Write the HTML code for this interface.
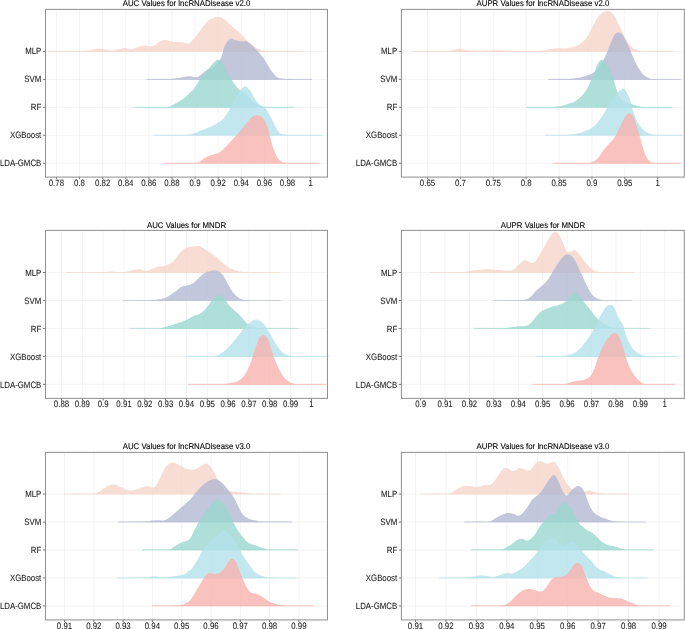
<!DOCTYPE html>
<html><head><meta charset="utf-8"><style>
html,body{margin:0;padding:0;background:#fff;}
svg{display:block;text-rendering:geometricPrecision;}
.ax{filter:grayscale(1);stroke:#1c1c1c;stroke-width:0.08px;font-family:"Liberation Sans",sans-serif;font-size:7.85px;fill:#1c1c1c;}
.ti{filter:grayscale(1);stroke:#000;stroke-width:0.1px;font-family:"Liberation Sans",sans-serif;font-size:7.85px;fill:#000;}
</style></head><body>
<svg width="685" height="629" viewBox="0 0 685 629">
<rect width="685" height="629" fill="#fff"/>
<g>
<g stroke="#EBEBEB" stroke-width="0.6">
<line x1="56.40" y1="9.4" x2="56.40" y2="177.1"/>
<line x1="79.51" y1="9.4" x2="79.51" y2="177.1"/>
<line x1="102.62" y1="9.4" x2="102.62" y2="177.1"/>
<line x1="125.73" y1="9.4" x2="125.73" y2="177.1"/>
<line x1="148.84" y1="9.4" x2="148.84" y2="177.1"/>
<line x1="171.95" y1="9.4" x2="171.95" y2="177.1"/>
<line x1="195.06" y1="9.4" x2="195.06" y2="177.1"/>
<line x1="218.17" y1="9.4" x2="218.17" y2="177.1"/>
<line x1="241.28" y1="9.4" x2="241.28" y2="177.1"/>
<line x1="264.39" y1="9.4" x2="264.39" y2="177.1"/>
<line x1="287.50" y1="9.4" x2="287.50" y2="177.1"/>
<line x1="310.61" y1="9.4" x2="310.61" y2="177.1"/>
<line x1="45.5" y1="51.40" x2="327.5" y2="51.40"/>
<line x1="45.5" y1="79.37" x2="327.5" y2="79.37"/>
<line x1="45.5" y1="107.34" x2="327.5" y2="107.34"/>
<line x1="45.5" y1="135.31" x2="327.5" y2="135.31"/>
<line x1="45.5" y1="163.28" x2="327.5" y2="163.28"/>
</g>
<g>
<line x1="48.2" y1="51.4" x2="302.5" y2="51.4" stroke="#F6D4C9" stroke-opacity="0.80" stroke-width="0.85"/><path d="M48.2,51.4 L48.2,51.3 L53.3,51.3 L60.6,51.3 L68.8,51.3 L76.8,51.3 L83.0,51.1 L87.4,50.7 L90.7,50.2 L93.4,49.6 L95.6,49.1 L97.9,48.8 L100.0,48.8 L101.9,48.9 L103.5,49.1 L104.9,49.4 L106.4,49.6 L107.7,49.8 L108.8,50.1 L109.9,50.4 L111.1,50.5 L112.7,50.5 L114.8,50.2 L117.2,49.6 L119.8,48.9 L122.2,48.3 L124.4,48.0 L126.1,48.1 L127.5,48.5 L128.7,48.9 L130.1,49.2 L131.8,49.2 L133.9,48.7 L136.3,47.8 L138.8,46.8 L141.2,45.9 L143.4,45.4 L145.2,45.4 L146.9,45.8 L148.4,46.2 L150.1,46.5 L151.9,46.3 L154.1,45.4 L156.5,43.9 L158.9,42.2 L161.3,40.8 L163.5,39.9 L165.4,39.8 L167.1,40.1 L168.7,40.7 L170.3,41.4 L172.0,41.8 L173.8,42.0 L175.6,42.1 L177.4,42.1 L179.1,42.1 L180.5,42.2 L181.7,42.3 L182.6,42.5 L183.4,42.6 L184.2,42.8 L185.0,42.9 L185.8,43.1 L186.6,43.5 L187.4,43.8 L188.2,43.9 L189.2,43.5 L190.3,42.6 L191.6,41.3 L192.9,39.8 L194.3,38.1 L195.6,36.5 L196.9,34.9 L198.1,33.2 L199.4,31.5 L200.6,29.7 L201.9,28.1 L203.1,26.5 L204.4,24.8 L205.6,23.3 L206.9,21.8 L208.3,20.6 L209.9,19.5 L211.7,18.6 L213.5,17.9 L215.2,17.3 L216.8,17.0 L218.2,16.9 L219.4,16.9 L220.5,17.2 L221.7,17.7 L223.1,18.5 L224.7,19.6 L226.3,21.0 L228.1,22.7 L229.9,24.3 L231.6,25.9 L233.3,27.4 L235.0,28.8 L236.6,30.3 L238.3,31.7 L240.0,33.3 L241.7,35.0 L243.4,36.7 L245.1,38.5 L246.8,40.2 L248.5,41.8 L250.2,43.3 L252.0,44.7 L253.8,46.0 L255.4,47.2 L257.0,48.2 L258.4,48.9 L259.7,49.5 L260.9,49.9 L262.0,50.2 L263.3,50.5 L264.2,50.7 L264.7,50.9 L265.4,51.0 L267.0,51.0 L270.0,51.1 L275.4,51.2 L282.7,51.2 L290.6,51.3 L297.7,51.3 L302.5,51.3 L302.5,51.4 Z" fill="#F6D4C9" fill-opacity="0.80"/>
<line x1="146.6" y1="79.4" x2="312.0" y2="79.4" stroke="#B3B9D2" stroke-opacity="0.80" stroke-width="0.85"/><path d="M146.6,79.4 L146.6,79.2 L150.1,79.2 L155.1,79.2 L160.8,79.1 L166.0,79.1 L170.0,79.0 L172.3,78.9 L173.6,78.8 L174.4,78.7 L175.1,78.5 L176.2,78.3 L177.8,78.0 L179.7,77.7 L181.6,77.3 L183.4,77.0 L185.0,76.7 L186.3,76.5 L187.3,76.4 L188.2,76.3 L189.2,76.3 L190.3,76.3 L191.6,76.5 L193.1,76.8 L194.6,77.1 L196.1,77.2 L197.7,76.9 L199.3,76.0 L201.0,74.7 L202.8,73.2 L204.5,71.7 L206.2,70.4 L207.9,69.5 L209.7,68.8 L211.4,68.1 L213.0,67.3 L214.6,66.2 L216.0,64.8 L217.4,63.3 L218.7,61.6 L219.9,59.7 L221.0,57.7 L222.0,55.3 L222.8,52.6 L223.5,49.8 L224.3,47.2 L225.2,45.0 L226.2,43.2 L227.2,41.6 L228.3,40.3 L229.4,39.3 L230.5,38.6 L231.6,38.4 L232.6,38.7 L233.7,39.3 L234.7,39.9 L235.8,40.3 L236.8,40.5 L237.9,40.7 L238.9,40.9 L240.0,41.1 L241.1,41.2 L242.3,41.2 L243.5,41.2 L244.7,41.2 L246.0,41.3 L247.4,41.8 L248.8,42.7 L250.3,43.8 L251.8,45.1 L253.3,46.6 L254.9,48.2 L256.6,49.9 L258.3,51.7 L260.0,53.7 L261.7,55.7 L263.3,57.7 L264.7,59.8 L266.0,62.0 L267.2,64.2 L268.5,66.3 L269.7,68.3 L271.0,70.2 L272.3,72.0 L273.6,73.6 L274.9,75.1 L276.0,76.3 L276.9,77.1 L277.6,77.6 L278.3,77.9 L279.1,78.2 L280.3,78.4 L281.7,78.6 L283.2,78.8 L285.0,78.9 L287.2,79.0 L290.0,79.1 L294.0,79.2 L299.0,79.2 L304.2,79.2 L308.8,79.2 L312.0,79.2 L312.0,79.4 Z" fill="#B3B9D2" fill-opacity="0.80"/>
<line x1="134.3" y1="107.3" x2="294.0" y2="107.3" stroke="#9AD7CF" stroke-opacity="0.80" stroke-width="0.85"/><path d="M134.3,107.3 L134.3,107.1 L138.9,107.1 L145.6,107.1 L153.1,107.0 L160.0,107.0 L165.0,106.9 L167.6,106.9 L168.6,106.9 L168.8,106.9 L169.1,106.8 L170.0,106.3 L171.8,105.4 L174.1,104.3 L176.5,102.9 L178.7,101.7 L180.5,100.6 L181.8,99.8 L182.7,99.3 L183.5,98.8 L184.2,98.2 L185.0,97.5 L186.0,96.6 L187.0,95.5 L188.1,94.5 L189.1,93.4 L190.0,92.5 L190.7,91.9 L191.3,91.6 L191.8,91.2 L192.5,90.6 L193.5,89.4 L194.9,87.4 L196.6,84.8 L198.4,81.9 L200.3,79.1 L201.9,76.7 L203.3,74.8 L204.7,73.3 L206.0,71.9 L207.2,70.6 L208.3,69.3 L209.3,68.1 L210.1,67.0 L210.8,65.9 L211.6,65.0 L212.5,64.0 L213.5,63.0 L214.6,61.9 L215.7,60.9 L216.8,60.1 L217.8,59.8 L218.7,59.9 L219.5,60.2 L220.3,60.9 L221.1,61.8 L222.0,63.0 L223.0,64.6 L224.1,66.6 L225.3,68.7 L226.4,70.8 L227.3,72.5 L228.0,73.7 L228.6,74.6 L229.1,75.4 L229.7,76.3 L230.5,77.5 L231.5,79.1 L232.6,81.0 L233.8,82.9 L235.1,84.8 L236.2,86.4 L237.3,87.7 L238.3,88.8 L239.3,89.7 L240.3,90.6 L241.4,91.5 L242.6,92.4 L243.9,93.2 L245.2,94.0 L246.4,94.8 L247.6,95.7 L248.7,96.7 L249.7,97.7 L250.7,98.8 L251.7,99.8 L252.7,100.8 L253.7,101.7 L254.8,102.7 L255.8,103.6 L256.9,104.3 L257.9,105.0 L258.9,105.5 L259.9,105.8 L260.8,106.1 L261.9,106.3 L263.0,106.5 L264.0,106.7 L264.8,106.8 L265.9,106.9 L267.5,107.0 L270.0,107.1 L274.1,107.1 L279.5,107.1 L285.3,107.1 L290.5,107.1 L294.0,107.1 L294.0,107.3 Z" fill="#9AD7CF" fill-opacity="0.80"/>
<line x1="154.0" y1="135.3" x2="322.6" y2="135.3" stroke="#B3E1EA" stroke-opacity="0.80" stroke-width="0.85"/><path d="M154.0,135.3 L154.0,135.0 L158.6,135.0 L165.4,135.0 L173.0,135.0 L180.0,134.9 L185.0,134.9 L187.6,134.8 L188.8,134.8 L189.2,134.7 L189.3,134.6 L190.0,134.4 L191.1,134.2 L192.4,133.9 L193.6,133.5 L194.9,133.1 L196.1,132.7 L197.3,132.2 L198.6,131.6 L199.8,131.1 L201.1,130.5 L202.3,129.9 L203.5,129.4 L204.7,128.9 L206.0,128.4 L207.2,127.9 L208.4,127.4 L209.6,126.9 L210.9,126.4 L212.1,125.9 L213.3,125.3 L214.5,124.8 L215.6,124.2 L216.7,123.7 L217.7,123.1 L218.7,122.4 L219.6,121.8 L220.5,121.1 L221.4,120.4 L222.2,119.7 L223.0,119.0 L223.7,118.2 L224.4,117.4 L225.0,116.6 L225.7,115.8 L226.2,114.9 L226.8,114.1 L227.3,113.3 L227.8,112.6 L228.3,111.8 L228.8,110.9 L229.3,110.0 L229.8,108.9 L230.3,107.8 L230.9,106.5 L231.4,105.2 L232.0,104.0 L232.6,102.8 L233.2,101.5 L233.8,100.3 L234.4,99.0 L235.2,97.7 L236.1,96.3 L237.2,94.7 L238.3,93.1 L239.4,91.7 L240.3,90.5 L241.1,89.6 L241.7,88.8 L242.3,88.2 L242.8,87.6 L243.4,87.2 L243.9,86.8 L244.4,86.4 L244.8,86.2 L245.4,86.2 L246.0,86.4 L246.8,87.0 L247.8,87.9 L248.8,88.9 L249.8,90.1 L250.7,91.3 L251.5,92.5 L252.3,93.9 L253.0,95.3 L253.8,96.7 L254.5,98.0 L255.2,99.2 L255.9,100.3 L256.6,101.4 L257.3,102.3 L258.0,103.2 L258.8,103.9 L259.6,104.6 L260.4,105.1 L261.2,105.6 L262.0,106.2 L262.8,106.8 L263.6,107.3 L264.5,107.9 L265.3,108.6 L266.0,109.3 L266.7,110.1 L267.3,111.1 L268.0,112.1 L268.6,113.1 L269.2,114.2 L269.8,115.4 L270.5,116.6 L271.1,117.9 L271.8,119.1 L272.4,120.4 L273.0,121.7 L273.6,122.9 L274.2,124.2 L274.8,125.4 L275.4,126.6 L276.0,127.7 L276.6,128.8 L277.2,129.8 L277.8,130.7 L278.4,131.5 L278.9,132.2 L279.4,132.7 L279.9,133.2 L280.5,133.5 L281.5,133.9 L282.5,134.2 L283.4,134.4 L284.6,134.6 L286.7,134.8 L290.0,134.9 L295.5,135.0 L302.9,135.0 L310.8,135.0 L317.8,135.0 L322.6,135.0 L322.6,135.3 Z" fill="#B3E1EA" fill-opacity="0.80"/>
<line x1="164.2" y1="163.3" x2="319.4" y2="163.3" stroke="#F8B3AF" stroke-opacity="0.80" stroke-width="0.85"/><path d="M164.2,163.3 L164.2,162.9 L168.0,162.9 L173.5,162.9 L179.7,162.9 L185.6,162.9 L190.0,162.9 L192.8,162.9 L194.7,162.9 L196.0,162.8 L197.0,162.7 L198.2,162.4 L199.4,161.9 L200.5,161.2 L201.4,160.5 L202.3,159.7 L203.3,159.0 L204.3,158.3 L205.4,157.7 L206.4,157.1 L207.4,156.5 L208.4,156.0 L209.3,155.6 L210.1,155.4 L210.8,155.2 L211.6,155.0 L212.5,154.8 L213.5,154.6 L214.5,154.3 L215.6,154.0 L216.6,153.8 L217.6,153.4 L218.5,153.0 L219.3,152.6 L220.0,152.1 L220.8,151.6 L221.7,150.9 L222.6,150.1 L223.6,149.1 L224.6,148.1 L225.7,147.0 L226.8,145.8 L228.0,144.6 L229.2,143.2 L230.4,141.8 L231.7,140.5 L232.9,139.1 L234.1,137.8 L235.3,136.5 L236.6,135.2 L237.8,133.9 L239.0,132.5 L240.2,131.0 L241.5,129.5 L242.7,127.9 L244.0,126.3 L245.2,124.8 L246.4,123.3 L247.7,121.7 L248.9,120.2 L250.1,118.8 L251.3,117.7 L252.4,116.8 L253.4,116.1 L254.4,115.6 L255.4,115.3 L256.4,115.2 L257.5,115.3 L258.7,115.5 L259.8,115.9 L261.0,116.5 L262.0,117.3 L262.9,118.2 L263.8,119.3 L264.6,120.6 L265.4,122.0 L266.1,123.5 L266.8,125.2 L267.5,127.1 L268.1,129.1 L268.7,131.1 L269.2,132.8 L269.6,134.3 L269.9,135.6 L270.2,136.9 L270.5,138.1 L270.8,139.5 L271.1,140.9 L271.5,142.3 L271.8,143.8 L272.3,145.4 L272.9,147.2 L273.7,149.4 L274.7,151.9 L275.8,154.5 L276.9,156.9 L278.1,158.8 L279.2,160.1 L280.4,161.0 L281.6,161.7 L282.9,162.2 L284.5,162.6 L286.1,162.9 L287.7,163.0 L289.6,163.0 L291.9,162.9 L295.0,162.9 L299.4,162.9 L304.9,162.9 L310.7,162.9 L315.9,162.9 L319.4,162.9 L319.4,163.3 Z" fill="#F8B3AF" fill-opacity="0.80"/>
</g>
<rect x="45.5" y="9.4" width="282.0" height="167.7" fill="none" stroke="#939393" stroke-width="1.05"/>
<g stroke="#EBEBEB" stroke-width="0.6">
<line x1="427.50" y1="9.4" x2="427.50" y2="177.1"/>
<line x1="460.39" y1="9.4" x2="460.39" y2="177.1"/>
<line x1="493.27" y1="9.4" x2="493.27" y2="177.1"/>
<line x1="526.15" y1="9.4" x2="526.15" y2="177.1"/>
<line x1="559.04" y1="9.4" x2="559.04" y2="177.1"/>
<line x1="591.92" y1="9.4" x2="591.92" y2="177.1"/>
<line x1="624.81" y1="9.4" x2="624.81" y2="177.1"/>
<line x1="657.69" y1="9.4" x2="657.69" y2="177.1"/>
<line x1="401.4" y1="51.40" x2="684.4" y2="51.40"/>
<line x1="401.4" y1="79.37" x2="684.4" y2="79.37"/>
<line x1="401.4" y1="107.34" x2="684.4" y2="107.34"/>
<line x1="401.4" y1="135.31" x2="684.4" y2="135.31"/>
<line x1="401.4" y1="163.28" x2="684.4" y2="163.28"/>
</g>
<g>
<line x1="412.6" y1="51.4" x2="673.4" y2="51.4" stroke="#F6D4C9" stroke-opacity="0.80" stroke-width="0.85"/><path d="M412.6,51.4 L412.6,51.3 L417.4,51.3 L424.3,51.3 L432.1,51.3 L439.4,51.2 L445.0,51.1 L448.5,50.9 L450.8,50.5 L452.4,50.1 L453.7,49.8 L455.0,49.5 L456.4,49.3 L457.4,49.1 L458.4,48.9 L459.3,48.8 L460.3,48.8 L461.3,49.0 L462.2,49.2 L463.1,49.6 L464.3,49.9 L466.0,50.2 L468.2,50.4 L470.9,50.6 L473.8,50.8 L476.9,50.9 L480.0,50.9 L483.2,50.8 L486.5,50.6 L489.9,50.4 L493.2,50.2 L496.3,50.1 L499.2,50.2 L501.9,50.3 L504.6,50.5 L507.2,50.7 L510.0,50.8 L512.9,50.9 L515.9,50.9 L518.9,50.9 L522.0,50.9 L525.0,50.9 L528.0,50.9 L531.0,51.0 L534.0,51.1 L537.0,51.1 L540.0,50.9 L543.0,50.5 L546.0,50.0 L549.0,49.4 L552.0,48.8 L554.8,48.4 L557.5,48.3 L560.1,48.3 L562.7,48.4 L565.1,48.4 L567.5,48.2 L569.8,47.8 L572.0,47.3 L574.1,46.7 L576.1,46.0 L578.1,45.0 L580.0,43.9 L581.8,42.5 L583.5,41.1 L585.1,39.4 L586.6,37.6 L588.0,35.5 L589.3,33.2 L590.5,30.7 L591.7,28.2 L592.9,25.9 L594.1,23.6 L595.4,21.3 L596.6,19.1 L597.9,17.1 L599.3,15.4 L600.9,13.9 L602.6,12.7 L604.4,11.6 L606.1,10.9 L607.7,10.7 L609.1,10.9 L610.4,11.5 L611.6,12.5 L612.9,13.8 L614.1,15.4 L615.4,17.4 L616.6,19.9 L617.9,22.6 L619.1,25.4 L620.4,28.1 L621.7,30.7 L623.0,33.4 L624.2,36.1 L625.5,38.6 L626.8,40.8 L628.1,42.7 L629.3,44.4 L630.6,45.8 L631.8,47.1 L633.1,48.2 L634.3,49.0 L635.5,49.6 L636.6,50.1 L638.0,50.4 L639.5,50.7 L641.1,51.0 L642.8,51.1 L644.7,51.2 L647.0,51.2 L650.0,51.3 L654.2,51.3 L659.6,51.3 L665.1,51.3 L670.0,51.3 L673.4,51.3 L673.4,51.4 Z" fill="#F6D4C9" fill-opacity="0.80"/>
<line x1="548.5" y1="79.4" x2="680.8" y2="79.4" stroke="#B3B9D2" stroke-opacity="0.80" stroke-width="0.85"/><path d="M548.5,79.4 L548.5,79.2 L550.9,79.2 L554.3,79.2 L558.2,79.1 L561.9,79.1 L565.0,79.0 L567.2,78.9 L569.0,78.9 L570.6,78.8 L572.1,78.6 L573.9,78.4 L575.9,78.1 L578.0,77.8 L580.2,77.4 L582.4,76.9 L584.5,76.3 L586.6,75.6 L588.8,74.9 L590.9,74.0 L593.0,72.9 L595.0,71.4 L596.9,69.6 L598.6,67.4 L600.3,65.0 L602.0,62.4 L603.5,59.8 L604.9,57.0 L606.3,53.9 L607.6,50.7 L608.8,47.7 L609.9,45.0 L610.9,42.7 L611.7,40.5 L612.5,38.6 L613.3,36.9 L614.1,35.5 L615.0,34.3 L615.9,33.4 L616.8,32.7 L617.8,32.4 L618.7,32.3 L619.7,32.6 L620.6,33.1 L621.6,34.0 L622.6,35.1 L623.6,36.5 L624.6,38.1 L625.6,40.1 L626.7,42.3 L627.8,44.6 L628.9,47.1 L630.1,49.9 L631.4,52.9 L632.7,56.1 L634.0,59.1 L635.3,61.9 L636.6,64.4 L637.8,66.7 L639.1,68.8 L640.3,70.8 L641.6,72.5 L642.9,74.0 L644.1,75.2 L645.4,76.2 L646.7,77.1 L648.0,77.8 L649.1,78.3 L649.9,78.7 L650.8,78.9 L652.4,79.0 L655.0,79.1 L659.4,79.2 L665.2,79.2 L671.4,79.2 L677.0,79.2 L680.8,79.2 L680.8,79.4 Z" fill="#B3B9D2" fill-opacity="0.80"/>
<line x1="526.5" y1="107.3" x2="672.3" y2="107.3" stroke="#9AD7CF" stroke-opacity="0.80" stroke-width="0.85"/><path d="M526.5,107.3 L526.5,107.1 L529.9,107.1 L534.8,107.1 L540.4,107.1 L545.7,107.1 L550.0,107.0 L553.0,106.9 L555.4,106.7 L557.4,106.5 L559.2,106.3 L561.2,105.9 L563.4,105.4 L565.7,104.7 L568.0,104.0 L570.0,103.3 L571.8,102.7 L573.2,102.2 L574.3,101.7 L575.2,101.2 L576.0,100.7 L577.0,100.0 L578.1,99.2 L579.2,98.3 L580.2,97.4 L581.3,96.3 L582.3,95.3 L583.2,94.3 L584.0,93.4 L584.8,92.3 L585.6,91.0 L586.6,89.4 L587.8,87.3 L589.1,84.8 L590.4,82.0 L591.7,79.3 L592.9,76.7 L593.9,74.2 L594.8,71.7 L595.6,69.2 L596.4,67.0 L597.2,65.1 L598.0,63.5 L598.9,62.1 L599.7,61.0 L600.6,60.2 L601.4,59.8 L602.2,59.8 L603.0,60.2 L603.8,60.9 L604.7,61.8 L605.6,63.0 L606.6,64.4 L607.8,66.1 L609.0,68.0 L610.1,70.2 L611.2,72.5 L612.2,75.2 L613.2,78.3 L614.1,81.5 L615.0,84.6 L615.8,87.3 L616.6,89.7 L617.4,91.9 L618.1,93.8 L618.9,95.6 L619.5,97.0 L620.1,98.0 L620.5,98.7 L620.9,99.2 L621.4,99.6 L622.0,100.0 L622.7,100.5 L623.4,100.9 L624.3,101.3 L625.1,101.6 L626.0,102.0 L626.9,102.4 L627.8,102.7 L628.7,103.0 L629.8,103.4 L631.0,103.8 L632.5,104.3 L634.1,104.9 L635.9,105.5 L637.7,106.1 L639.5,106.5 L640.9,106.8 L642.1,106.9 L643.5,107.0 L645.3,107.1 L648.0,107.1 L652.2,107.1 L657.7,107.1 L663.6,107.1 L668.7,107.1 L672.3,107.1 L672.3,107.3 Z" fill="#9AD7CF" fill-opacity="0.80"/>
<line x1="545.3" y1="135.3" x2="682.9" y2="135.3" stroke="#B3E1EA" stroke-opacity="0.80" stroke-width="0.85"/><path d="M545.3,135.3 L545.3,135.0 L548.2,135.0 L552.4,135.0 L557.1,135.0 L561.6,134.9 L565.0,134.9 L567.1,134.9 L568.5,134.8 L569.4,134.8 L570.4,134.7 L571.8,134.5 L573.7,134.2 L575.7,133.9 L577.9,133.5 L580.1,133.0 L582.3,132.3 L584.4,131.5 L586.6,130.6 L588.8,129.6 L590.9,128.4 L592.9,127.0 L594.8,125.4 L596.6,123.6 L598.3,121.6 L599.9,119.5 L601.4,117.5 L602.8,115.4 L604.1,113.3 L605.3,111.2 L606.5,109.0 L607.7,106.9 L609.0,104.7 L610.3,102.4 L611.6,100.2 L612.8,98.2 L614.0,96.4 L615.1,95.0 L616.2,93.7 L617.2,92.7 L618.3,91.9 L619.3,91.1 L620.3,90.3 L621.3,89.6 L622.4,89.1 L623.4,88.9 L624.4,89.3 L625.5,90.4 L626.6,92.0 L627.6,94.0 L628.7,96.3 L629.6,98.5 L630.4,100.8 L631.1,103.4 L631.7,106.1 L632.4,108.7 L633.1,111.2 L633.9,113.5 L634.7,115.7 L635.5,117.8 L636.4,119.9 L637.4,121.8 L638.5,123.7 L639.8,125.5 L641.1,127.3 L642.4,128.9 L643.7,130.2 L644.9,131.3 L646.1,132.1 L647.3,132.8 L648.6,133.3 L650.1,133.8 L651.6,134.2 L653.2,134.5 L654.9,134.7 L657.1,134.9 L660.0,135.0 L664.1,135.1 L669.3,135.1 L674.8,135.1 L679.6,135.0 L682.9,135.0 L682.9,135.3 Z" fill="#B3E1EA" fill-opacity="0.80"/>
<line x1="553.1" y1="163.3" x2="681.4" y2="163.3" stroke="#F8B3AF" stroke-opacity="0.80" stroke-width="0.85"/><path d="M553.1,163.3 L553.1,162.9 L557.9,162.9 L564.8,162.9 L572.6,162.9 L579.8,162.9 L585.0,162.9 L587.8,162.9 L589.2,162.9 L589.7,162.8 L590.0,162.7 L590.8,162.4 L592.0,162.0 L593.3,161.4 L594.6,160.7 L595.9,159.9 L597.2,158.8 L598.5,157.4 L599.7,155.7 L601.0,153.9 L602.2,152.0 L603.5,150.3 L604.8,148.7 L606.1,147.2 L607.4,145.7 L608.7,144.3 L609.9,142.9 L611.0,141.6 L612.1,140.5 L613.1,139.4 L614.1,138.1 L615.1,136.6 L616.2,134.7 L617.3,132.6 L618.3,130.3 L619.4,128.1 L620.4,126.0 L621.3,124.1 L622.2,122.2 L623.0,120.5 L623.9,118.9 L624.7,117.5 L625.5,116.3 L626.4,115.2 L627.2,114.2 L628.1,113.6 L628.9,113.3 L629.7,113.3 L630.6,113.6 L631.4,114.3 L632.3,115.2 L633.1,116.5 L634.0,118.2 L634.8,120.4 L635.7,122.8 L636.5,125.4 L637.4,128.1 L638.2,130.9 L639.1,133.9 L639.9,137.0 L640.8,140.0 L641.6,142.9 L642.4,145.7 L643.2,148.4 L644.0,151.1 L644.9,153.5 L645.8,155.6 L646.7,157.4 L647.7,158.9 L648.7,160.1 L649.8,161.2 L651.1,162.0 L652.4,162.5 L653.8,162.8 L655.4,162.9 L657.4,162.9 L660.0,162.9 L663.8,163.0 L668.7,163.0 L673.8,162.9 L678.3,162.9 L681.4,162.9 L681.4,163.3 Z" fill="#F8B3AF" fill-opacity="0.80"/>
</g>
<rect x="401.4" y="9.4" width="282.9" height="167.7" fill="none" stroke="#939393" stroke-width="1.05"/>
<g stroke="#EBEBEB" stroke-width="0.6">
<line x1="61.50" y1="230.4" x2="61.50" y2="398.4"/>
<line x1="82.33" y1="230.4" x2="82.33" y2="398.4"/>
<line x1="103.15" y1="230.4" x2="103.15" y2="398.4"/>
<line x1="123.98" y1="230.4" x2="123.98" y2="398.4"/>
<line x1="144.80" y1="230.4" x2="144.80" y2="398.4"/>
<line x1="165.63" y1="230.4" x2="165.63" y2="398.4"/>
<line x1="186.45" y1="230.4" x2="186.45" y2="398.4"/>
<line x1="207.27" y1="230.4" x2="207.27" y2="398.4"/>
<line x1="228.10" y1="230.4" x2="228.10" y2="398.4"/>
<line x1="248.92" y1="230.4" x2="248.92" y2="398.4"/>
<line x1="269.75" y1="230.4" x2="269.75" y2="398.4"/>
<line x1="290.57" y1="230.4" x2="290.57" y2="398.4"/>
<line x1="311.40" y1="230.4" x2="311.40" y2="398.4"/>
<line x1="45.5" y1="272.50" x2="327.5" y2="272.50"/>
<line x1="45.5" y1="300.47" x2="327.5" y2="300.47"/>
<line x1="45.5" y1="328.44" x2="327.5" y2="328.44"/>
<line x1="45.5" y1="356.41" x2="327.5" y2="356.41"/>
<line x1="45.5" y1="384.38" x2="327.5" y2="384.38"/>
</g>
<g>
<line x1="66.2" y1="272.5" x2="279.2" y2="272.5" stroke="#F6D4C9" stroke-opacity="0.80" stroke-width="0.85"/><path d="M66.2,272.5 L66.2,272.4 L71.2,272.5 L78.4,272.5 L86.5,272.5 L94.2,272.5 L100.0,272.4 L103.7,272.2 L106.2,271.9 L107.8,271.6 L109.2,271.4 L110.6,271.3 L112.0,271.4 L113.0,271.6 L114.0,271.8 L114.9,272.0 L116.0,272.2 L117.2,272.3 L118.4,272.5 L119.7,272.5 L121.3,272.5 L123.3,272.3 L125.9,271.8 L129.0,271.1 L132.3,270.2 L135.4,269.6 L138.1,269.2 L140.2,269.3 L141.9,269.8 L143.4,270.4 L144.9,270.8 L146.6,270.9 L148.6,270.4 L150.8,269.6 L153.0,268.6 L155.2,267.7 L157.2,267.0 L159.1,266.6 L160.8,266.4 L162.5,266.2 L164.1,266.0 L165.7,265.6 L167.3,265.0 L168.7,264.3 L170.2,263.5 L171.6,262.5 L173.1,261.3 L174.6,259.7 L176.2,257.8 L177.7,255.7 L179.2,253.8 L180.5,252.2 L181.7,251.0 L182.7,250.0 L183.6,249.3 L184.6,248.6 L185.8,248.0 L187.2,247.5 L188.8,247.1 L190.4,246.9 L192.0,246.7 L193.5,246.5 L194.8,246.3 L196.1,246.1 L197.3,246.0 L198.6,246.1 L199.8,246.3 L201.0,246.7 L202.2,247.4 L203.3,248.1 L204.6,249.0 L206.2,250.1 L208.1,251.3 L210.2,252.8 L212.5,254.4 L214.8,256.0 L216.8,257.5 L218.6,259.0 L220.3,260.6 L221.9,262.1 L223.5,263.6 L225.2,264.9 L226.9,266.1 L228.6,267.2 L230.3,268.2 L232.0,269.1 L233.7,269.8 L235.4,270.4 L237.1,270.8 L238.9,271.2 L240.5,271.4 L242.2,271.7 L243.5,271.9 L244.3,272.1 L245.4,272.2 L247.1,272.3 L250.0,272.4 L254.9,272.5 L261.5,272.5 L268.6,272.5 L274.9,272.5 L279.2,272.4 L279.2,272.5 Z" fill="#F6D4C9" fill-opacity="0.80"/>
<line x1="122.9" y1="300.5" x2="280.7" y2="300.5" stroke="#B3B9D2" stroke-opacity="0.80" stroke-width="0.85"/><path d="M122.9,300.5 L122.9,300.4 L126.1,300.4 L130.7,300.4 L136.0,300.4 L141.0,300.3 L145.0,300.3 L147.8,300.3 L149.9,300.2 L151.6,300.2 L153.2,300.1 L155.1,299.9 L157.2,299.6 L159.4,299.3 L161.6,298.9 L163.7,298.4 L165.7,297.7 L167.5,296.8 L169.3,295.8 L170.9,294.7 L172.5,293.5 L174.1,292.4 L175.7,291.2 L177.2,289.9 L178.7,288.7 L180.2,287.6 L181.5,286.7 L182.7,286.2 L183.8,286.0 L184.8,285.9 L185.9,285.8 L187.0,285.6 L188.2,285.3 L189.3,285.0 L190.6,284.5 L191.9,283.9 L193.5,282.9 L195.4,281.3 L197.6,279.2 L199.9,277.0 L202.1,274.9 L204.0,273.4 L205.5,272.5 L206.7,271.9 L207.8,271.6 L208.8,271.4 L210.0,271.2 L211.3,270.9 L212.7,270.6 L214.1,270.4 L215.5,270.3 L216.8,270.6 L218.1,271.1 L219.4,271.8 L220.6,272.8 L221.8,274.0 L223.1,275.5 L224.4,277.5 L225.7,279.8 L226.9,282.4 L228.2,285.0 L229.5,287.2 L230.8,289.2 L232.0,291.0 L233.3,292.7 L234.5,294.3 L235.8,295.6 L237.1,296.7 L238.3,297.6 L239.5,298.3 L240.8,298.9 L242.2,299.4 L243.3,299.8 L244.1,300.0 L245.2,300.2 L247.0,300.3 L250.0,300.4 L255.2,300.5 L262.1,300.5 L269.5,300.4 L276.2,300.4 L280.7,300.4 L280.7,300.5 Z" fill="#B3B9D2" fill-opacity="0.80"/>
<line x1="130.1" y1="328.4" x2="298.7" y2="328.4" stroke="#9AD7CF" stroke-opacity="0.80" stroke-width="0.85"/><path d="M130.1,328.4 L130.1,328.4 L133.8,328.4 L139.2,328.4 L145.3,328.4 L150.9,328.4 L155.0,328.4 L157.2,328.4 L158.3,328.4 L158.7,328.4 L159.1,328.4 L160.0,328.3 L161.5,328.0 L163.3,327.5 L165.1,327.0 L167.0,326.4 L168.8,325.9 L170.5,325.4 L172.3,324.9 L174.0,324.3 L175.8,323.8 L177.5,323.2 L179.3,322.6 L181.1,322.0 L182.9,321.4 L184.6,320.7 L186.3,320.0 L187.9,319.2 L189.3,318.4 L190.8,317.6 L192.2,316.7 L193.6,316.0 L195.1,315.4 L196.6,314.9 L198.1,314.5 L199.5,313.9 L200.9,313.2 L202.2,312.3 L203.3,311.3 L204.4,310.1 L205.6,308.9 L206.7,307.6 L207.9,306.1 L209.1,304.4 L210.2,302.7 L211.4,301.0 L212.6,299.6 L213.8,298.4 L214.9,297.2 L216.1,296.3 L217.2,295.6 L218.4,295.2 L219.6,295.3 L220.8,295.7 L222.0,296.3 L223.1,297.2 L224.2,298.1 L225.1,299.2 L226.0,300.5 L226.8,301.9 L227.6,303.4 L228.6,304.7 L229.7,305.9 L230.9,307.1 L232.1,308.3 L233.3,309.4 L234.5,310.5 L235.7,311.6 L236.8,312.5 L238.0,313.5 L239.1,314.6 L240.3,315.7 L241.5,317.0 L242.7,318.4 L243.9,319.9 L245.0,321.3 L246.1,322.5 L247.0,323.5 L247.9,324.4 L248.7,325.2 L249.5,325.9 L250.5,326.5 L251.6,327.0 L252.9,327.3 L254.2,327.6 L255.5,327.8 L257.0,328.0 L258.2,328.2 L259.0,328.3 L260.2,328.3 L262.1,328.4 L265.4,328.4 L271.0,328.4 L278.5,328.4 L286.6,328.4 L293.8,328.4 L298.7,328.4 L298.7,328.4 Z" fill="#9AD7CF" fill-opacity="0.80"/>
<line x1="186.4" y1="356.4" x2="328.9" y2="356.4" stroke="#B3E1EA" stroke-opacity="0.80" stroke-width="0.85"/><path d="M186.4,356.4 L186.4,356.3 L189.1,356.3 L192.9,356.3 L197.3,356.3 L201.6,356.3 L205.0,356.3 L207.5,356.3 L209.5,356.4 L211.3,356.4 L212.9,356.3 L214.6,356.0 L216.4,355.5 L218.1,355.0 L219.8,354.2 L221.4,353.3 L223.1,352.2 L224.8,350.8 L226.5,349.3 L228.2,347.5 L229.9,345.7 L231.6,343.8 L233.3,341.8 L235.0,339.7 L236.6,337.5 L238.3,335.3 L240.0,333.2 L241.7,331.1 L243.4,329.0 L245.1,327.0 L246.8,325.1 L248.5,323.6 L250.1,322.3 L251.7,321.2 L253.3,320.3 L254.9,319.7 L256.5,319.6 L258.1,319.9 L259.7,320.7 L261.3,321.8 L262.8,323.2 L264.3,324.7 L265.7,326.5 L267.0,328.5 L268.3,330.8 L269.6,333.1 L270.9,335.3 L272.2,337.5 L273.4,339.7 L274.7,341.9 L275.9,344.0 L277.2,345.9 L278.4,347.7 L279.7,349.3 L280.9,350.8 L282.2,352.2 L283.6,353.3 L285.1,354.2 L286.8,354.8 L288.4,355.3 L290.1,355.7 L291.8,356.0 L293.1,356.2 L294.1,356.3 L295.2,356.3 L297.0,356.3 L300.0,356.3 L304.9,356.3 L311.5,356.3 L318.4,356.3 L324.6,356.3 L328.9,356.3 L328.9,356.4 Z" fill="#B3E1EA" fill-opacity="0.80"/>
<line x1="188.2" y1="384.4" x2="325.8" y2="384.4" stroke="#F8B3AF" stroke-opacity="0.80" stroke-width="0.85"/><path d="M188.2,384.4 L188.2,384.2 L191.3,384.2 L195.8,384.2 L200.9,384.2 L205.8,384.2 L210.0,384.2 L213.2,384.2 L215.9,384.2 L218.3,384.2 L220.6,384.2 L223.1,384.0 L225.7,383.8 L228.4,383.5 L231.0,383.1 L233.5,382.6 L235.8,381.9 L237.8,381.0 L239.6,380.0 L241.3,378.7 L242.8,377.3 L244.3,375.5 L245.7,373.4 L247.1,371.0 L248.3,368.3 L249.5,365.6 L250.6,362.8 L251.6,359.9 L252.6,356.8 L253.5,353.7 L254.4,350.7 L255.3,348.0 L256.2,345.5 L257.1,343.1 L258.0,341.0 L258.9,339.1 L259.8,337.6 L260.7,336.5 L261.6,335.7 L262.5,335.3 L263.4,335.1 L264.3,335.3 L265.2,335.7 L266.0,336.5 L266.9,337.5 L267.7,338.9 L268.6,340.6 L269.4,342.8 L270.2,345.4 L271.0,348.3 L271.8,351.3 L272.8,354.3 L273.9,357.3 L275.1,360.4 L276.4,363.6 L277.7,366.5 L279.0,369.2 L280.2,371.5 L281.4,373.6 L282.7,375.5 L283.9,377.2 L285.3,378.7 L286.7,380.0 L288.2,381.2 L289.8,382.2 L291.4,383.0 L293.0,383.6 L294.5,384.0 L295.8,384.2 L297.3,384.2 L299.2,384.2 L302.0,384.2 L306.2,384.3 L311.6,384.3 L317.3,384.3 L322.3,384.3 L325.8,384.2 L325.8,384.4 Z" fill="#F8B3AF" fill-opacity="0.80"/>
</g>
<rect x="45.5" y="230.4" width="282.0" height="168.0" fill="none" stroke="#939393" stroke-width="1.05"/>
<g stroke="#EBEBEB" stroke-width="0.6">
<line x1="420.70" y1="230.4" x2="420.70" y2="398.4"/>
<line x1="445.10" y1="230.4" x2="445.10" y2="398.4"/>
<line x1="469.50" y1="230.4" x2="469.50" y2="398.4"/>
<line x1="493.90" y1="230.4" x2="493.90" y2="398.4"/>
<line x1="518.30" y1="230.4" x2="518.30" y2="398.4"/>
<line x1="542.70" y1="230.4" x2="542.70" y2="398.4"/>
<line x1="567.10" y1="230.4" x2="567.10" y2="398.4"/>
<line x1="591.50" y1="230.4" x2="591.50" y2="398.4"/>
<line x1="615.90" y1="230.4" x2="615.90" y2="398.4"/>
<line x1="640.30" y1="230.4" x2="640.30" y2="398.4"/>
<line x1="664.70" y1="230.4" x2="664.70" y2="398.4"/>
<line x1="401.4" y1="272.50" x2="684.4" y2="272.50"/>
<line x1="401.4" y1="300.47" x2="684.4" y2="300.47"/>
<line x1="401.4" y1="328.44" x2="684.4" y2="328.44"/>
<line x1="401.4" y1="356.41" x2="684.4" y2="356.41"/>
<line x1="401.4" y1="384.38" x2="684.4" y2="384.38"/>
</g>
<g>
<line x1="429.6" y1="272.5" x2="634.2" y2="272.5" stroke="#F6D4C9" stroke-opacity="0.80" stroke-width="0.85"/><path d="M429.6,272.5 L429.6,272.4 L433.3,272.5 L438.7,272.5 L444.8,272.5 L450.5,272.4 L455.0,272.4 L457.9,272.3 L459.9,272.3 L461.4,272.2 L462.8,272.1 L464.5,271.9 L466.5,271.6 L468.6,271.3 L470.7,270.9 L472.8,270.5 L475.1,270.2 L477.5,269.9 L480.0,269.7 L482.6,269.4 L485.2,269.3 L487.8,269.2 L490.4,269.3 L493.0,269.5 L495.6,269.7 L498.1,270.0 L500.5,270.2 L502.8,270.4 L505.1,270.6 L507.3,270.8 L509.3,270.8 L511.1,270.6 L512.6,270.0 L513.9,269.2 L515.1,268.2 L516.2,267.1 L517.4,266.0 L518.7,264.8 L520.1,263.5 L521.4,262.2 L522.7,261.0 L523.8,260.3 L524.8,260.1 L525.6,260.2 L526.3,260.5 L527.1,261.0 L528.0,261.3 L529.0,261.7 L530.0,262.2 L531.1,262.7 L532.2,263.0 L533.3,262.8 L534.3,262.2 L535.3,261.2 L536.3,259.9 L537.4,258.4 L538.6,256.5 L540.0,254.1 L541.7,251.3 L543.3,248.2 L545.0,245.2 L546.4,242.7 L547.6,240.6 L548.7,238.6 L549.7,236.9 L550.6,235.4 L551.6,234.2 L552.6,233.2 L553.6,232.5 L554.6,232.0 L555.5,231.9 L556.5,232.1 L557.4,232.7 L558.4,233.7 L559.3,235.1 L560.2,236.7 L561.2,238.5 L562.2,240.8 L563.3,243.7 L564.4,246.7 L565.5,249.3 L566.5,251.2 L567.4,252.1 L568.3,252.3 L569.1,252.2 L569.9,251.8 L570.7,251.6 L571.5,251.3 L572.3,250.8 L573.1,250.3 L574.0,250.0 L574.9,250.1 L575.9,250.7 L576.9,251.6 L577.9,252.7 L579.1,254.0 L580.2,255.4 L581.4,256.9 L582.7,258.7 L584.0,260.5 L585.3,262.3 L586.6,263.9 L587.9,265.3 L589.1,266.6 L590.4,267.8 L591.6,268.9 L592.9,269.8 L594.2,270.5 L595.4,271.0 L596.6,271.4 L597.9,271.6 L599.3,271.9 L600.4,272.1 L601.4,272.3 L602.5,272.3 L604.2,272.4 L607.0,272.4 L611.6,272.5 L617.8,272.5 L624.3,272.5 L630.2,272.5 L634.2,272.4 L634.2,272.5 Z" fill="#F6D4C9" fill-opacity="0.80"/>
<line x1="493.5" y1="300.5" x2="631.7" y2="300.5" stroke="#B3B9D2" stroke-opacity="0.80" stroke-width="0.85"/><path d="M493.5,300.5 L493.5,300.4 L496.6,300.4 L501.2,300.4 L506.3,300.4 L511.2,300.3 L515.0,300.3 L517.6,300.3 L519.6,300.3 L521.1,300.2 L522.4,300.1 L523.8,299.9 L525.2,299.6 L526.5,299.2 L527.7,298.8 L528.9,298.1 L530.1,297.3 L531.4,296.1 L532.8,294.6 L534.1,293.0 L535.4,291.5 L536.5,290.3 L537.4,289.5 L538.1,288.9 L538.7,288.4 L539.3,287.9 L540.0,287.4 L540.8,286.8 L541.5,286.2 L542.3,285.5 L543.2,284.8 L544.0,284.0 L544.8,283.2 L545.6,282.4 L546.4,281.5 L547.3,280.3 L548.5,278.7 L550.0,276.4 L551.7,273.5 L553.5,270.4 L555.3,267.5 L556.9,264.9 L558.3,262.8 L559.7,260.9 L560.9,259.2 L562.1,257.7 L563.3,256.5 L564.4,255.6 L565.3,254.9 L566.3,254.4 L567.2,254.2 L568.2,254.3 L569.3,254.6 L570.4,255.1 L571.5,256.0 L572.7,257.1 L573.9,258.6 L575.1,260.6 L576.4,263.0 L577.6,265.7 L578.9,268.6 L580.2,271.3 L581.5,274.0 L582.8,276.9 L584.0,279.7 L585.3,282.4 L586.6,285.0 L587.8,287.4 L589.1,289.8 L590.3,292.0 L591.6,294.0 L592.9,295.6 L594.3,296.8 L595.8,297.7 L597.3,298.4 L598.8,298.9 L600.3,299.4 L601.6,299.8 L602.6,300.0 L603.8,300.2 L605.4,300.3 L608.0,300.4 L612.1,300.5 L617.5,300.5 L623.2,300.4 L628.2,300.4 L631.7,300.4 L631.7,300.5 Z" fill="#B3B9D2" fill-opacity="0.80"/>
<line x1="474.0" y1="328.4" x2="650.5" y2="328.4" stroke="#9AD7CF" stroke-opacity="0.80" stroke-width="0.85"/><path d="M474.0,328.4 L474.0,328.4 L477.8,328.3 L483.4,328.3 L489.7,328.3 L495.6,328.2 L500.0,328.2 L502.5,328.2 L503.9,328.1 L504.7,328.1 L505.5,328.0 L506.8,327.9 L508.7,327.7 L510.9,327.3 L513.1,327.0 L515.4,326.7 L517.4,326.4 L519.3,326.3 L521.1,326.2 L522.8,326.2 L524.4,326.1 L525.9,325.8 L527.2,325.4 L528.3,324.9 L529.2,324.2 L530.2,323.5 L531.2,322.6 L532.3,321.5 L533.3,320.2 L534.4,318.8 L535.4,317.5 L536.5,316.2 L537.5,315.1 L538.5,314.0 L539.4,312.9 L540.5,311.9 L541.8,311.0 L543.3,310.2 L545.0,309.4 L546.8,308.7 L548.7,308.0 L550.6,307.3 L552.7,306.6 L554.9,306.0 L557.2,305.4 L559.3,304.8 L561.2,304.1 L562.7,303.4 L564.0,302.7 L565.1,301.9 L566.2,301.0 L567.5,299.9 L568.9,298.3 L570.4,296.2 L571.9,294.1 L573.4,292.4 L574.9,291.8 L576.4,292.3 L577.8,293.8 L579.3,295.7 L580.7,297.9 L582.3,299.9 L584.0,301.9 L585.7,304.0 L587.5,306.3 L589.2,308.4 L590.8,310.4 L592.2,312.2 L593.5,313.9 L594.7,315.5 L596.0,317.0 L597.2,318.4 L598.4,319.6 L599.6,320.8 L600.8,321.8 L602.1,322.7 L603.5,323.6 L605.1,324.5 L606.8,325.3 L608.5,326.0 L610.3,326.7 L612.0,327.2 L613.3,327.6 L614.2,327.9 L615.2,328.1 L617.0,328.2 L620.0,328.3 L625.1,328.4 L632.0,328.4 L639.4,328.4 L646.0,328.4 L650.5,328.4 L650.5,328.4 Z" fill="#9AD7CF" fill-opacity="0.80"/>
<line x1="536.1" y1="356.4" x2="677.6" y2="356.4" stroke="#B3E1EA" stroke-opacity="0.80" stroke-width="0.85"/><path d="M536.1,356.4 L536.1,356.3 L538.8,356.3 L542.8,356.3 L547.3,356.3 L551.6,356.3 L555.0,356.3 L557.3,356.3 L559.0,356.3 L560.3,356.3 L561.7,356.2 L563.3,356.0 L565.3,355.7 L567.5,355.3 L569.7,354.8 L571.9,354.2 L573.9,353.3 L575.7,352.2 L577.4,350.9 L579.0,349.4 L580.6,347.7 L582.3,345.9 L584.0,343.8 L585.8,341.5 L587.6,339.1 L589.3,336.6 L590.8,334.3 L592.1,332.1 L593.3,329.8 L594.4,327.6 L595.5,325.6 L596.4,323.7 L597.2,322.0 L598.0,320.6 L598.6,319.2 L599.3,317.9 L600.0,316.5 L600.8,315.0 L601.7,313.4 L602.7,311.9 L603.5,310.5 L604.3,309.3 L604.9,308.4 L605.5,307.6 L606.0,307.0 L606.5,306.5 L607.0,306.0 L607.6,305.6 L608.2,305.3 L608.8,305.1 L609.4,304.9 L610.0,304.9 L610.6,304.9 L611.2,305.0 L611.8,305.2 L612.4,305.6 L613.0,306.0 L613.5,306.6 L614.0,307.3 L614.5,308.1 L615.0,309.0 L615.5,310.0 L616.0,311.2 L616.5,312.5 L616.9,313.9 L617.4,315.3 L617.9,316.5 L618.4,317.5 L618.9,318.5 L619.5,319.3 L620.0,320.2 L620.5,321.0 L621.0,321.8 L621.5,322.5 L622.0,323.3 L622.5,324.1 L623.0,325.0 L623.4,326.1 L623.8,327.3 L624.1,328.6 L624.5,330.0 L624.9,331.4 L625.4,332.9 L625.8,334.4 L626.3,336.0 L626.8,337.5 L627.4,339.0 L628.0,340.4 L628.6,341.7 L629.3,343.0 L629.9,344.2 L630.6,345.3 L631.2,346.3 L631.8,347.3 L632.4,348.2 L633.1,349.0 L633.8,349.8 L634.6,350.5 L635.3,351.2 L636.2,351.8 L637.0,352.4 L638.0,353.0 L639.0,353.6 L640.0,354.2 L641.2,354.7 L642.4,355.2 L643.7,355.6 L644.9,355.9 L646.0,356.1 L647.3,356.2 L649.2,356.2 L652.0,356.3 L656.4,356.3 L662.2,356.4 L668.4,356.3 L673.8,356.3 L677.6,356.3 L677.6,356.4 Z" fill="#B3E1EA" fill-opacity="0.80"/>
<line x1="532.2" y1="384.4" x2="675.1" y2="384.4" stroke="#F8B3AF" stroke-opacity="0.80" stroke-width="0.85"/><path d="M532.2,384.4 L532.2,384.2 L535.5,384.3 L540.3,384.3 L545.7,384.3 L550.9,384.3 L555.0,384.2 L557.9,384.3 L560.1,384.3 L562.0,384.3 L563.6,384.2 L565.4,384.0 L567.2,383.6 L568.8,383.1 L570.4,382.5 L572.1,381.9 L573.9,381.4 L576.0,381.0 L578.2,380.8 L580.5,380.5 L582.6,380.2 L584.5,379.7 L586.1,379.0 L587.5,378.3 L588.7,377.4 L589.8,376.5 L590.8,375.5 L591.7,374.4 L592.4,373.2 L593.0,372.0 L593.5,370.7 L594.0,369.5 L594.5,368.3 L594.9,367.1 L595.3,366.0 L595.7,364.9 L596.0,363.8 L596.3,362.8 L596.6,362.0 L596.9,361.1 L597.2,360.3 L597.5,359.3 L597.9,358.2 L598.4,357.1 L598.8,355.9 L599.3,354.7 L599.8,353.6 L600.2,352.5 L600.7,351.5 L601.1,350.5 L601.5,349.5 L602.0,348.5 L602.5,347.5 L602.9,346.5 L603.4,345.4 L604.0,344.4 L604.5,343.4 L605.1,342.4 L605.7,341.3 L606.4,340.3 L607.0,339.3 L607.7,338.4 L608.3,337.5 L609.0,336.7 L609.6,335.8 L610.2,335.1 L610.9,334.5 L611.6,334.0 L612.4,333.5 L613.2,333.2 L614.0,333.0 L614.7,332.9 L615.4,333.0 L616.1,333.1 L616.7,333.5 L617.3,333.9 L617.9,334.5 L618.5,335.3 L619.0,336.3 L619.5,337.3 L619.9,338.5 L620.4,339.6 L620.8,340.7 L621.2,341.8 L621.6,342.9 L621.9,344.1 L622.3,345.3 L622.7,346.5 L623.1,347.8 L623.5,349.1 L623.9,350.4 L624.3,351.7 L624.7,353.0 L625.1,354.3 L625.4,355.6 L625.8,356.9 L626.2,358.1 L626.6,359.3 L626.9,360.4 L627.3,361.5 L627.7,362.6 L628.1,363.8 L628.6,365.0 L629.1,366.2 L629.6,367.4 L630.2,368.6 L631.0,370.0 L631.9,371.5 L632.9,373.2 L634.1,374.9 L635.2,376.6 L636.5,378.1 L637.8,379.5 L639.3,380.8 L640.8,382.0 L642.3,383.0 L643.7,383.8 L644.7,384.2 L645.4,384.4 L646.2,384.4 L647.6,384.3 L650.0,384.2 L654.2,384.3 L659.9,384.3 L666.0,384.3 L671.4,384.3 L675.1,384.2 L675.1,384.4 Z" fill="#F8B3AF" fill-opacity="0.80"/>
</g>
<rect x="401.4" y="230.4" width="282.9" height="168.0" fill="none" stroke="#939393" stroke-width="1.05"/>
<g stroke="#EBEBEB" stroke-width="0.6">
<line x1="64.50" y1="452.4" x2="64.50" y2="619.9"/>
<line x1="93.80" y1="452.4" x2="93.80" y2="619.9"/>
<line x1="123.10" y1="452.4" x2="123.10" y2="619.9"/>
<line x1="152.40" y1="452.4" x2="152.40" y2="619.9"/>
<line x1="181.70" y1="452.4" x2="181.70" y2="619.9"/>
<line x1="211.00" y1="452.4" x2="211.00" y2="619.9"/>
<line x1="240.30" y1="452.4" x2="240.30" y2="619.9"/>
<line x1="269.60" y1="452.4" x2="269.60" y2="619.9"/>
<line x1="298.90" y1="452.4" x2="298.90" y2="619.9"/>
<line x1="45.5" y1="494.05" x2="327.5" y2="494.05"/>
<line x1="45.5" y1="522.02" x2="327.5" y2="522.02"/>
<line x1="45.5" y1="549.99" x2="327.5" y2="549.99"/>
<line x1="45.5" y1="577.96" x2="327.5" y2="577.96"/>
<line x1="45.5" y1="605.93" x2="327.5" y2="605.93"/>
</g>
<g>
<line x1="63.6" y1="494.1" x2="280.7" y2="494.1" stroke="#F6D4C9" stroke-opacity="0.80" stroke-width="0.85"/><path d="M63.6,494.1 L63.6,493.9 L66.7,493.9 L71.2,493.9 L76.3,493.9 L81.2,493.9 L85.0,493.9 L87.6,493.9 L89.5,493.9 L91.0,494.0 L92.3,493.9 L93.7,493.7 L95.1,493.4 L96.3,493.0 L97.5,492.5 L98.7,491.9 L100.0,491.2 L101.4,490.3 L102.9,489.3 L104.5,488.2 L106.0,487.1 L107.4,486.3 L108.7,485.6 L110.0,485.0 L111.3,484.6 L112.5,484.3 L113.8,484.2 L115.0,484.4 L116.2,484.9 L117.3,485.5 L118.6,486.2 L120.1,486.9 L121.8,487.6 L123.8,488.5 L125.8,489.4 L127.8,490.1 L129.7,490.5 L131.5,490.6 L133.1,490.3 L134.8,490.0 L136.4,489.5 L138.1,489.0 L139.8,488.4 L141.5,487.6 L143.3,486.9 L145.0,486.2 L146.6,485.9 L148.2,486.1 L149.7,486.7 L151.2,487.4 L152.7,487.8 L154.0,487.6 L155.2,486.7 L156.2,485.3 L157.2,483.5 L158.2,481.6 L159.3,479.5 L160.5,477.1 L161.7,474.3 L163.0,471.5 L164.3,468.9 L165.7,466.8 L167.1,465.3 L168.6,464.2 L170.1,463.3 L171.6,462.8 L173.1,462.6 L174.6,462.8 L176.2,463.4 L177.7,464.2 L179.2,465.1 L180.5,465.8 L181.6,466.4 L182.5,467.0 L183.3,467.6 L184.1,468.1 L185.0,468.5 L186.0,468.8 L187.0,469.0 L188.1,469.2 L189.1,469.4 L190.0,469.5 L190.8,469.7 L191.4,469.9 L192.0,470.1 L192.6,470.1 L193.5,470.0 L194.6,469.6 L195.8,469.0 L197.1,468.3 L198.5,467.5 L199.8,466.8 L201.1,466.0 L202.4,465.2 L203.7,464.3 L205.0,463.8 L206.2,463.6 L207.3,463.9 L208.4,464.6 L209.5,465.5 L210.5,466.7 L211.5,467.9 L212.4,469.3 L213.3,470.8 L214.2,472.5 L215.1,474.3 L216.0,476.0 L216.9,477.8 L217.9,479.7 L218.9,481.6 L219.9,483.4 L221.0,485.0 L222.1,486.4 L223.1,487.7 L224.3,488.9 L225.6,489.9 L227.3,490.7 L229.5,491.3 L232.1,491.6 L234.9,491.8 L237.6,492.0 L240.0,492.2 L242.0,492.5 L243.8,492.8 L245.4,493.1 L246.9,493.3 L248.5,493.5 L249.8,493.6 L250.7,493.7 L251.8,493.8 L253.4,493.9 L256.0,493.9 L260.2,493.9 L265.8,493.9 L271.8,493.9 L277.1,493.9 L280.7,493.9 L280.7,494.1 Z" fill="#F6D4C9" fill-opacity="0.80"/>
<line x1="118.0" y1="522.0" x2="291.9" y2="522.0" stroke="#B3B9D2" stroke-opacity="0.80" stroke-width="0.85"/><path d="M118.0,522.0 L118.0,521.9 L121.2,521.8 L126.0,521.9 L131.3,521.8 L136.2,521.8 L140.0,521.8 L142.3,521.8 L143.7,521.7 L144.6,521.6 L145.4,521.5 L146.6,521.4 L148.2,521.2 L149.8,520.9 L151.5,520.6 L153.3,520.4 L155.1,520.2 L157.0,520.2 L158.9,520.3 L160.9,520.5 L162.8,520.5 L164.6,520.2 L166.2,519.6 L167.7,518.8 L169.1,517.8 L170.5,516.7 L172.0,515.5 L173.7,514.1 L175.5,512.6 L177.3,511.0 L179.0,509.4 L180.5,508.1 L181.6,507.1 L182.6,506.2 L183.4,505.5 L184.1,504.8 L185.0,504.0 L186.0,503.2 L187.0,502.3 L188.1,501.5 L189.1,500.7 L190.0,499.8 L190.7,499.0 L191.3,498.3 L191.8,497.5 L192.5,496.6 L193.5,495.4 L194.9,493.8 L196.6,491.8 L198.4,489.6 L200.2,487.6 L201.9,485.9 L203.5,484.5 L205.0,483.3 L206.5,482.2 L207.9,481.3 L209.3,480.6 L210.6,480.0 L211.9,479.5 L213.2,479.2 L214.4,479.0 L215.7,479.1 L217.0,479.4 L218.2,480.0 L219.5,480.7 L220.7,481.7 L222.0,482.7 L223.3,483.9 L224.6,485.4 L225.9,486.9 L227.2,488.5 L228.4,490.1 L229.6,491.6 L230.8,493.1 L231.9,494.6 L233.0,496.2 L234.0,497.8 L235.0,499.5 L235.8,501.3 L236.7,503.2 L237.5,505.0 L238.4,506.7 L239.3,508.4 L240.1,510.1 L241.0,511.7 L241.9,513.2 L242.9,514.5 L243.9,515.6 L244.9,516.4 L246.0,517.1 L247.1,517.8 L248.4,518.4 L249.8,519.0 L251.3,519.5 L252.9,519.9 L254.5,520.3 L256.2,520.6 L257.6,520.9 L258.8,521.2 L260.1,521.4 L262.1,521.6 L265.0,521.7 L269.7,521.8 L275.7,521.8 L282.2,521.8 L288.0,521.8 L291.9,521.9 L291.9,522.0 Z" fill="#B3B9D2" fill-opacity="0.80"/>
<line x1="142.0" y1="550.0" x2="297.8" y2="550.0" stroke="#9AD7CF" stroke-opacity="0.80" stroke-width="0.85"/><path d="M142.0,550.0 L142.0,549.8 L144.9,549.8 L149.1,549.8 L153.9,549.8 L158.5,549.8 L162.0,549.8 L164.4,549.8 L166.1,549.7 L167.4,549.7 L168.6,549.5 L169.9,549.2 L171.3,548.7 L172.6,548.0 L173.8,547.1 L175.0,546.3 L176.2,545.6 L177.3,544.9 L178.4,544.3 L179.4,543.6 L180.5,543.0 L181.5,542.5 L182.6,542.1 L183.7,541.7 L184.8,541.4 L185.9,541.1 L186.8,540.8 L187.5,540.5 L188.1,540.4 L188.7,540.1 L189.3,539.6 L190.0,538.7 L190.9,537.3 L191.8,535.4 L192.9,533.3 L193.9,531.1 L195.0,529.0 L196.1,527.0 L197.2,524.9 L198.3,522.8 L199.5,520.8 L200.6,518.9 L201.7,517.3 L202.8,515.8 L203.8,514.4 L204.9,513.0 L206.1,511.5 L207.3,509.8 L208.6,507.9 L210.0,506.0 L211.3,504.2 L212.5,502.8 L213.6,501.7 L214.6,500.7 L215.7,500.0 L216.7,499.6 L217.8,499.5 L219.0,499.9 L220.3,500.6 L221.7,501.7 L223.0,502.9 L224.2,504.3 L225.3,505.8 L226.3,507.6 L227.3,509.5 L228.2,511.5 L229.2,513.4 L230.1,515.4 L231.1,517.4 L232.0,519.5 L232.9,521.5 L233.8,523.4 L234.7,525.1 L235.6,526.7 L236.4,528.3 L237.4,529.7 L238.3,531.2 L239.3,532.6 L240.4,534.0 L241.5,535.4 L242.6,536.7 L243.6,537.9 L244.6,539.1 L245.5,540.2 L246.4,541.2 L247.4,542.1 L248.4,542.9 L249.5,543.5 L250.6,543.9 L251.7,544.2 L252.9,544.5 L254.0,544.8 L255.1,545.2 L256.2,545.6 L257.3,546.0 L258.4,546.4 L259.5,546.8 L260.6,547.2 L261.7,547.6 L262.8,547.9 L263.9,548.3 L265.0,548.6 L265.7,548.9 L265.9,549.1 L266.4,549.4 L267.5,549.6 L270.0,549.7 L274.5,549.8 L280.8,549.8 L287.6,549.8 L293.7,549.8 L297.8,549.8 L297.8,550.0 Z" fill="#9AD7CF" fill-opacity="0.80"/>
<line x1="117.0" y1="578.0" x2="297.2" y2="578.0" stroke="#B3E1EA" stroke-opacity="0.80" stroke-width="0.85"/><path d="M117.0,578.0 L117.0,577.8 L120.4,577.8 L125.3,577.8 L130.9,577.8 L136.1,577.7 L140.0,577.7 L142.3,577.7 L143.7,577.6 L144.6,577.6 L145.4,577.5 L146.6,577.4 L148.2,577.2 L149.8,576.9 L151.5,576.6 L153.3,576.4 L155.1,576.3 L156.9,576.4 L158.7,576.7 L160.6,577.0 L162.5,577.3 L164.6,577.4 L166.8,577.3 L169.2,577.0 L171.7,576.6 L174.0,576.3 L176.2,575.9 L178.2,575.6 L180.1,575.3 L181.8,575.0 L183.4,574.6 L184.7,574.2 L185.7,573.7 L186.4,573.2 L186.9,572.6 L187.4,572.0 L188.0,571.5 L188.6,571.1 L189.2,570.8 L189.8,570.4 L190.5,569.9 L191.4,568.9 L192.5,567.5 L193.7,565.7 L195.0,563.7 L196.4,561.5 L197.7,559.4 L199.0,557.1 L200.2,554.7 L201.5,552.2 L202.7,549.8 L204.0,547.8 L205.3,546.2 L206.6,544.9 L207.9,543.7 L209.2,542.6 L210.5,541.5 L211.8,540.3 L213.2,539.1 L214.5,537.9 L215.9,536.7 L217.3,535.6 L218.7,534.3 L220.2,532.9 L221.7,531.6 L223.1,530.7 L224.5,530.3 L225.8,530.6 L227.0,531.5 L228.2,532.8 L229.4,534.2 L230.6,535.6 L231.8,537.0 L232.9,538.4 L234.0,540.0 L235.1,541.7 L236.2,543.4 L237.3,545.3 L238.5,547.5 L239.7,549.6 L240.7,551.6 L241.7,553.4 L242.5,554.8 L243.2,556.0 L243.8,557.0 L244.5,558.0 L245.1,559.0 L245.7,559.9 L246.3,560.7 L246.9,561.5 L247.6,562.4 L248.5,563.6 L249.6,565.1 L250.7,566.9 L252.1,568.8 L253.4,570.6 L254.9,572.1 L256.4,573.3 L258.1,574.2 L259.8,575.0 L261.6,575.7 L263.3,576.3 L264.8,576.8 L266.0,577.2 L267.3,577.4 L269.2,577.6 L272.0,577.8 L276.4,577.9 L282.1,577.9 L288.1,577.9 L293.5,577.8 L297.2,577.8 L297.2,578.0 Z" fill="#B3E1EA" fill-opacity="0.80"/>
<line x1="151.9" y1="605.9" x2="313.7" y2="605.9" stroke="#F8B3AF" stroke-opacity="0.80" stroke-width="0.85"/><path d="M151.9,605.9 L151.9,605.8 L154.8,605.8 L159.0,605.8 L163.8,605.8 L168.4,605.8 L172.0,605.7 L174.5,605.6 L176.3,605.5 L177.8,605.3 L179.1,605.2 L180.5,604.9 L182.0,604.6 L183.3,604.2 L184.6,603.7 L185.8,603.3 L186.8,602.8 L187.6,602.4 L188.3,602.0 L188.8,601.6 L189.4,601.1 L190.0,600.5 L190.6,599.7 L191.2,598.9 L191.9,598.0 L192.6,596.8 L193.5,595.4 L194.6,593.6 L195.8,591.5 L197.1,589.3 L198.5,587.0 L199.8,584.8 L201.1,582.6 L202.5,580.3 L203.8,578.0 L205.1,576.1 L206.2,574.6 L207.1,573.7 L207.9,573.3 L208.7,573.2 L209.5,573.2 L210.4,573.2 L211.5,573.3 L212.8,573.5 L214.1,573.8 L215.5,573.9 L216.8,573.8 L218.1,573.4 L219.4,572.8 L220.7,572.1 L221.9,571.1 L223.1,570.0 L224.3,568.5 L225.4,566.7 L226.5,564.7 L227.5,562.9 L228.4,561.5 L229.2,560.4 L230.0,559.5 L230.6,558.9 L231.3,558.4 L232.0,558.3 L232.7,558.4 L233.5,558.8 L234.2,559.4 L235.0,560.3 L235.8,561.5 L236.6,563.1 L237.4,565.1 L238.2,567.4 L239.1,569.7 L240.0,572.1 L241.0,574.6 L242.0,577.3 L243.1,580.0 L244.2,582.6 L245.3,584.8 L246.3,586.7 L247.4,588.4 L248.4,589.9 L249.5,591.2 L250.6,592.2 L251.8,592.9 L253.1,593.2 L254.4,593.4 L255.7,593.5 L257.0,593.9 L258.3,594.5 L259.5,595.2 L260.8,595.9 L262.0,596.7 L263.3,597.5 L264.5,598.3 L265.8,599.2 L267.0,600.1 L268.3,600.9 L269.7,601.7 L271.3,602.4 L272.9,603.0 L274.6,603.6 L276.4,604.1 L278.1,604.5 L279.8,604.9 L281.5,605.1 L283.2,605.4 L284.9,605.6 L286.6,605.7 L288.1,605.8 L289.5,605.8 L290.9,605.8 L292.7,605.8 L295.0,605.8 L298.4,605.8 L302.6,605.8 L307.1,605.8 L311.0,605.8 L313.7,605.8 L313.7,605.9 Z" fill="#F8B3AF" fill-opacity="0.80"/>
</g>
<rect x="45.5" y="452.4" width="282.0" height="167.5" fill="none" stroke="#939393" stroke-width="1.05"/>
<g stroke="#EBEBEB" stroke-width="0.6">
<line x1="415.50" y1="452.4" x2="415.50" y2="619.9"/>
<line x1="445.94" y1="452.4" x2="445.94" y2="619.9"/>
<line x1="476.38" y1="452.4" x2="476.38" y2="619.9"/>
<line x1="506.82" y1="452.4" x2="506.82" y2="619.9"/>
<line x1="537.26" y1="452.4" x2="537.26" y2="619.9"/>
<line x1="567.70" y1="452.4" x2="567.70" y2="619.9"/>
<line x1="598.14" y1="452.4" x2="598.14" y2="619.9"/>
<line x1="628.58" y1="452.4" x2="628.58" y2="619.9"/>
<line x1="659.02" y1="452.4" x2="659.02" y2="619.9"/>
<line x1="401.4" y1="494.05" x2="684.4" y2="494.05"/>
<line x1="401.4" y1="522.02" x2="684.4" y2="522.02"/>
<line x1="401.4" y1="549.99" x2="684.4" y2="549.99"/>
<line x1="401.4" y1="577.96" x2="684.4" y2="577.96"/>
<line x1="401.4" y1="605.93" x2="684.4" y2="605.93"/>
</g>
<g>
<line x1="420.0" y1="494.1" x2="631.0" y2="494.1" stroke="#F6D4C9" stroke-opacity="0.80" stroke-width="0.85"/><path d="M420.0,494.1 L420.0,493.9 L422.9,493.9 L427.1,493.9 L431.8,493.9 L436.3,493.9 L440.0,493.9 L442.6,493.9 L444.7,493.9 L446.5,493.8 L448.1,493.7 L449.7,493.3 L451.3,492.7 L452.8,491.8 L454.3,490.8 L455.7,489.8 L457.1,489.0 L458.6,488.2 L460.1,487.5 L461.6,486.8 L463.1,486.3 L464.5,485.9 L465.8,485.8 L467.1,485.8 L468.3,486.0 L469.6,486.2 L470.9,486.3 L472.3,486.5 L473.8,486.7 L475.3,486.8 L476.8,486.9 L478.3,486.9 L479.8,486.6 L481.3,486.2 L482.8,485.7 L484.3,485.2 L485.7,484.8 L487.0,484.6 L488.3,484.7 L489.5,484.7 L490.8,484.5 L492.0,483.8 L493.3,482.6 L494.6,480.9 L495.8,479.0 L497.1,477.0 L498.4,475.3 L499.6,473.6 L500.8,471.8 L502.0,470.0 L503.3,468.7 L504.7,467.9 L506.3,468.0 L508.0,468.7 L509.8,469.8 L511.5,470.7 L513.2,471.1 L514.7,470.8 L516.2,470.0 L517.6,469.1 L519.1,468.3 L520.6,467.9 L522.3,468.2 L524.0,469.0 L525.8,469.9 L527.5,470.6 L529.1,470.6 L530.5,469.8 L531.9,468.3 L533.1,466.6 L534.3,464.9 L535.4,463.6 L536.3,462.7 L537.1,462.0 L537.8,461.4 L538.7,461.0 L539.7,460.9 L541.0,461.2 L542.6,461.8 L544.3,462.6 L545.9,463.3 L547.4,463.6 L548.8,463.4 L550.1,462.7 L551.4,462.0 L552.6,461.5 L553.8,461.5 L554.9,462.2 L556.0,463.3 L557.0,464.7 L558.0,466.3 L559.0,467.9 L559.9,469.6 L560.7,471.5 L561.5,473.4 L562.3,475.4 L563.3,477.4 L564.4,479.4 L565.7,481.5 L567.0,483.5 L568.3,485.4 L569.6,487.0 L570.9,488.3 L572.2,489.3 L573.4,490.2 L574.7,490.9 L576.0,491.5 L577.3,491.9 L578.5,492.2 L579.8,492.3 L581.0,492.3 L582.3,492.2 L583.6,492.0 L584.9,491.5 L586.1,491.1 L587.4,490.7 L588.7,490.5 L590.0,490.6 L591.2,491.0 L592.5,491.4 L593.7,491.8 L595.0,492.2 L596.2,492.5 L597.4,492.8 L598.7,493.1 L600.0,493.3 L601.4,493.5 L602.8,493.6 L604.1,493.7 L605.6,493.8 L607.5,493.9 L610.0,493.9 L613.7,493.9 L618.5,493.9 L623.5,493.9 L627.9,493.9 L631.0,493.9 L631.0,494.1 Z" fill="#F6D4C9" fill-opacity="0.80"/>
<line x1="464.1" y1="522.0" x2="645.8" y2="522.0" stroke="#B3B9D2" stroke-opacity="0.80" stroke-width="0.85"/><path d="M464.1,522.0 L464.1,521.9 L466.7,521.8 L470.5,521.9 L474.7,521.8 L478.8,521.8 L482.0,521.8 L484.2,521.8 L485.9,521.9 L487.2,521.9 L488.4,521.8 L489.9,521.4 L491.6,520.7 L493.3,519.7 L495.0,518.6 L496.7,517.6 L498.4,516.6 L500.1,515.7 L501.9,514.9 L503.6,514.1 L505.2,513.4 L506.8,513.0 L508.2,512.9 L509.5,513.0 L510.7,513.2 L512.0,513.5 L513.2,513.8 L514.5,514.2 L515.7,514.8 L517.0,515.4 L518.2,515.7 L519.5,515.5 L520.8,514.8 L522.1,513.7 L523.3,512.3 L524.6,510.8 L525.9,509.2 L527.1,507.4 L528.4,505.4 L529.6,503.4 L530.9,501.4 L532.2,499.6 L533.6,498.2 L535.2,497.0 L536.7,495.9 L538.2,494.7 L539.7,493.3 L541.1,491.6 L542.6,489.6 L543.9,487.5 L545.2,485.6 L546.4,483.8 L547.4,482.3 L548.3,480.8 L549.0,479.5 L549.8,478.4 L550.6,477.4 L551.4,476.6 L552.3,475.8 L553.1,475.2 L554.0,475.0 L554.8,475.3 L555.6,476.1 L556.5,477.5 L557.3,479.1 L558.2,480.9 L559.0,482.7 L559.9,484.6 L560.7,486.7 L561.6,488.8 L562.5,490.7 L563.3,492.2 L564.1,493.4 L564.8,494.3 L565.5,495.0 L566.3,495.4 L567.1,495.4 L567.9,494.9 L568.8,493.8 L569.7,492.5 L570.7,491.2 L571.8,490.1 L573.1,489.0 L574.5,487.8 L575.9,486.8 L577.4,486.1 L578.7,485.9 L579.9,486.4 L581.1,487.3 L582.3,488.6 L583.4,490.3 L584.5,492.2 L585.6,494.6 L586.6,497.5 L587.6,500.6 L588.7,503.5 L589.7,506.0 L590.7,507.9 L591.7,509.6 L592.6,510.9 L593.7,512.2 L595.0,513.4 L596.5,514.5 L598.1,515.5 L599.8,516.4 L601.6,517.2 L603.5,518.0 L605.5,518.8 L607.6,519.5 L609.7,520.2 L611.9,520.7 L614.1,521.2 L616.1,521.5 L618.0,521.7 L619.9,521.8 L622.2,521.8 L625.0,521.9 L628.9,521.9 L633.6,521.9 L638.5,521.9 L642.8,521.9 L645.8,521.9 L645.8,522.0 Z" fill="#B3B9D2" fill-opacity="0.80"/>
<line x1="470.9" y1="550.0" x2="653.7" y2="550.0" stroke="#9AD7CF" stroke-opacity="0.80" stroke-width="0.85"/><path d="M470.9,550.0 L470.9,549.8 L474.4,549.8 L479.6,549.8 L485.4,549.8 L490.9,549.8 L495.0,549.8 L497.6,549.8 L499.2,549.8 L500.3,549.8 L501.3,549.6 L502.6,549.2 L504.3,548.5 L506.1,547.6 L507.9,546.6 L509.6,545.6 L511.1,544.6 L512.4,543.7 L513.5,542.8 L514.4,541.9 L515.4,541.1 L516.4,540.4 L517.4,539.8 L518.5,539.4 L519.5,539.0 L520.6,538.8 L521.7,538.7 L522.9,539.0 L524.1,539.6 L525.4,540.2 L526.7,540.6 L528.0,540.6 L529.3,540.0 L530.6,539.1 L531.9,537.8 L533.2,536.5 L534.4,535.0 L535.5,533.4 L536.6,531.7 L537.6,529.9 L538.7,528.0 L540.0,526.1 L541.5,524.1 L543.3,522.0 L545.1,520.0 L546.9,518.1 L548.5,516.6 L549.9,515.6 L551.2,515.1 L552.5,514.7 L553.6,514.2 L554.8,513.4 L555.9,512.1 L557.0,510.5 L558.0,508.9 L559.1,507.3 L560.1,506.0 L561.1,504.9 L562.2,504.0 L563.2,503.2 L564.3,502.8 L565.4,502.8 L566.6,503.4 L567.9,504.4 L569.2,505.7 L570.5,507.4 L571.8,509.2 L573.1,511.4 L574.3,514.1 L575.6,517.0 L576.8,519.7 L578.1,521.9 L579.3,523.6 L580.6,524.9 L581.8,526.1 L583.1,527.1 L584.5,528.2 L586.1,529.4 L587.9,530.5 L589.8,531.6 L591.5,532.6 L592.9,533.5 L594.0,534.3 L594.8,535.0 L595.5,535.6 L596.2,536.3 L597.0,537.0 L597.8,537.8 L598.6,538.7 L599.5,539.7 L600.4,540.6 L601.4,541.4 L602.5,542.2 L603.8,543.0 L605.1,543.8 L606.4,544.4 L607.7,545.0 L609.0,545.4 L610.3,545.6 L611.5,545.8 L612.8,546.0 L614.1,546.3 L615.4,546.7 L616.6,547.1 L617.9,547.6 L619.1,548.0 L620.4,548.4 L621.6,548.7 L622.9,549.0 L624.1,549.3 L625.4,549.5 L626.8,549.7 L628.2,549.8 L629.4,549.8 L630.9,549.8 L632.7,549.8 L635.0,549.8 L638.4,549.8 L642.6,549.8 L647.1,549.8 L651.0,549.8 L653.7,549.8 L653.7,550.0 Z" fill="#9AD7CF" fill-opacity="0.80"/>
<line x1="439.1" y1="578.0" x2="647.5" y2="578.0" stroke="#B3E1EA" stroke-opacity="0.80" stroke-width="0.85"/><path d="M439.1,578.0 L439.1,577.8 L442.1,577.8 L446.5,577.8 L451.5,577.8 L456.3,577.8 L460.0,577.8 L462.5,577.8 L464.2,577.8 L465.5,577.7 L466.9,577.6 L468.7,577.4 L471.0,577.0 L473.5,576.5 L476.1,576.0 L478.8,575.5 L481.4,575.3 L484.0,575.5 L486.5,575.9 L489.1,576.4 L491.6,576.8 L494.1,576.8 L496.6,576.3 L499.1,575.6 L501.5,574.6 L503.8,573.8 L505.8,573.2 L507.5,573.1 L509.0,573.2 L510.3,573.4 L511.7,573.5 L513.2,573.2 L515.0,572.5 L516.8,571.6 L518.8,570.6 L520.7,569.3 L522.5,568.0 L524.2,566.5 L525.9,564.9 L527.5,563.2 L529.2,561.4 L530.8,559.6 L532.5,557.7 L534.2,555.7 L536.0,553.7 L537.5,551.8 L538.9,550.0 L540.0,548.4 L540.9,546.8 L541.6,545.4 L542.3,544.1 L543.0,543.0 L543.7,542.2 L544.2,541.6 L544.8,541.2 L545.5,540.8 L546.4,540.4 L547.7,539.9 L549.2,539.4 L550.8,538.9 L552.4,538.7 L553.8,538.7 L555.0,539.1 L556.1,539.9 L557.1,540.8 L558.1,541.7 L559.0,542.5 L559.9,543.2 L560.8,544.0 L561.6,544.8 L562.5,545.3 L563.3,545.6 L564.1,545.5 L564.9,545.1 L565.7,544.6 L566.6,544.0 L567.5,543.5 L568.5,543.0 L569.5,542.3 L570.6,541.7 L571.7,541.3 L572.8,541.4 L573.8,542.0 L574.9,542.9 L575.9,544.1 L577.0,545.4 L578.1,546.7 L579.3,548.1 L580.6,549.6 L581.9,551.1 L583.2,552.7 L584.5,554.1 L585.8,555.4 L587.0,556.7 L588.3,557.9 L589.5,559.2 L590.8,560.5 L592.1,562.0 L593.4,563.6 L594.6,565.2 L595.9,566.7 L597.2,567.9 L598.5,568.8 L599.7,569.4 L601.0,570.0 L602.2,570.4 L603.5,571.0 L604.8,571.6 L606.1,572.3 L607.3,573.0 L608.6,573.6 L609.9,574.2 L611.1,574.8 L612.3,575.4 L613.5,575.9 L614.8,576.4 L616.2,576.8 L617.6,577.1 L618.9,577.4 L620.4,577.5 L622.3,577.7 L625.0,577.8 L629.0,577.9 L634.1,577.9 L639.5,577.8 L644.2,577.8 L647.5,577.8 L647.5,578.0 Z" fill="#B3E1EA" fill-opacity="0.80"/>
<line x1="470.9" y1="605.9" x2="669.6" y2="605.9" stroke="#F8B3AF" stroke-opacity="0.80" stroke-width="0.85"/><path d="M470.9,605.9 L470.9,605.8 L474.4,605.8 L479.5,605.8 L485.2,605.9 L490.7,605.9 L495.0,605.8 L497.9,605.7 L500.1,605.7 L501.7,605.5 L503.2,605.3 L504.7,604.9 L506.2,604.3 L507.5,603.6 L508.7,602.7 L509.9,601.7 L511.1,600.7 L512.4,599.5 L513.6,598.2 L514.9,596.8 L516.1,595.5 L517.4,594.3 L518.7,593.3 L520.0,592.3 L521.2,591.5 L522.5,590.7 L523.8,590.1 L525.1,589.6 L526.3,589.3 L527.6,589.1 L528.8,589.0 L530.1,589.0 L531.4,589.2 L532.7,589.5 L534.0,589.9 L535.3,590.4 L536.5,590.7 L537.6,591.0 L538.7,591.4 L539.8,591.7 L540.8,591.8 L541.8,591.6 L542.8,591.1 L543.7,590.3 L544.6,589.2 L545.5,588.1 L546.4,586.9 L547.4,585.5 L548.4,583.9 L549.5,582.2 L550.5,580.7 L551.6,579.5 L552.6,578.7 L553.7,578.1 L554.7,577.6 L555.8,577.3 L556.9,577.0 L558.1,576.8 L559.4,576.8 L560.8,576.7 L562.1,576.6 L563.3,576.3 L564.4,575.7 L565.5,575.0 L566.5,574.2 L567.6,573.2 L568.6,572.1 L569.7,570.7 L570.8,569.1 L571.9,567.4 L572.9,565.9 L573.9,564.7 L574.7,563.9 L575.5,563.3 L576.2,562.9 L576.9,562.7 L577.7,562.8 L578.6,563.1 L579.5,563.6 L580.4,564.4 L581.4,565.4 L582.3,566.8 L583.2,568.7 L584.0,571.0 L584.8,573.5 L585.7,576.1 L586.6,578.5 L587.6,580.8 L588.5,583.1 L589.6,585.3 L590.7,587.3 L591.9,589.0 L593.2,590.3 L594.7,591.2 L596.2,591.9 L597.7,592.6 L599.3,593.3 L600.9,594.1 L602.7,595.0 L604.4,595.8 L606.1,596.5 L607.7,597.1 L609.1,597.5 L610.4,597.6 L611.6,597.7 L612.8,597.8 L614.1,597.9 L615.5,598.0 L617.0,598.1 L618.5,598.2 L620.0,598.3 L621.5,598.6 L623.0,599.1 L624.4,599.7 L625.9,600.3 L627.3,601.0 L628.9,601.7 L630.5,602.4 L632.3,603.1 L634.0,603.8 L635.7,604.4 L637.4,604.9 L638.7,605.2 L639.7,605.4 L640.8,605.5 L642.4,605.6 L645.0,605.7 L649.2,605.8 L654.8,605.8 L660.7,605.8 L666.0,605.8 L669.6,605.8 L669.6,605.9 Z" fill="#F8B3AF" fill-opacity="0.80"/>
</g>
<rect x="401.4" y="452.4" width="282.9" height="167.5" fill="none" stroke="#939393" stroke-width="1.05"/>
</g>
<g stroke="#7a7a7a" stroke-width="1">
<line x1="56.40" y1="177.1" x2="56.40" y2="179.2"/>
<line x1="79.51" y1="177.1" x2="79.51" y2="179.2"/>
<line x1="102.62" y1="177.1" x2="102.62" y2="179.2"/>
<line x1="125.73" y1="177.1" x2="125.73" y2="179.2"/>
<line x1="148.84" y1="177.1" x2="148.84" y2="179.2"/>
<line x1="171.95" y1="177.1" x2="171.95" y2="179.2"/>
<line x1="195.06" y1="177.1" x2="195.06" y2="179.2"/>
<line x1="218.17" y1="177.1" x2="218.17" y2="179.2"/>
<line x1="241.28" y1="177.1" x2="241.28" y2="179.2"/>
<line x1="264.39" y1="177.1" x2="264.39" y2="179.2"/>
<line x1="287.50" y1="177.1" x2="287.50" y2="179.2"/>
<line x1="310.61" y1="177.1" x2="310.61" y2="179.2"/>
<line x1="42.9" y1="51.40" x2="45.5" y2="51.40"/>
<line x1="42.9" y1="79.37" x2="45.5" y2="79.37"/>
<line x1="42.9" y1="107.34" x2="45.5" y2="107.34"/>
<line x1="42.9" y1="135.31" x2="45.5" y2="135.31"/>
<line x1="42.9" y1="163.28" x2="45.5" y2="163.28"/>
</g>
<g class="ax">
<text transform="translate(56.40,186.2) scale(1,1.17)" text-anchor="middle">0.78</text>
<text transform="translate(79.51,186.2) scale(1,1.17)" text-anchor="middle">0.8</text>
<text transform="translate(102.62,186.2) scale(1,1.17)" text-anchor="middle">0.82</text>
<text transform="translate(125.73,186.2) scale(1,1.17)" text-anchor="middle">0.84</text>
<text transform="translate(148.84,186.2) scale(1,1.17)" text-anchor="middle">0.86</text>
<text transform="translate(171.95,186.2) scale(1,1.17)" text-anchor="middle">0.88</text>
<text transform="translate(195.06,186.2) scale(1,1.17)" text-anchor="middle">0.9</text>
<text transform="translate(218.17,186.2) scale(1,1.17)" text-anchor="middle">0.92</text>
<text transform="translate(241.28,186.2) scale(1,1.17)" text-anchor="middle">0.94</text>
<text transform="translate(264.39,186.2) scale(1,1.17)" text-anchor="middle">0.96</text>
<text transform="translate(287.50,186.2) scale(1,1.17)" text-anchor="middle">0.98</text>
<text transform="translate(310.61,186.2) scale(1,1.17)" text-anchor="middle">1</text>
<text transform="translate(41.3,53.80) scale(1,1.17)" text-anchor="end">MLP</text>
<text transform="translate(41.3,81.77) scale(1,1.17)" text-anchor="end">SVM</text>
<text transform="translate(41.3,109.74) scale(1,1.17)" text-anchor="end">RF</text>
<text transform="translate(41.3,137.71) scale(1,1.17)" text-anchor="end">XGBoost</text>
<text transform="translate(41.3,165.68) scale(1,1.17)" text-anchor="end">LDA-GMCB</text>
</g>
<text class="ti" transform="translate(186.5,6.2) scale(1,1.06)" text-anchor="middle">AUC Values for lncRNADisease v2.0</text>
<g stroke="#7a7a7a" stroke-width="1">
<line x1="427.50" y1="177.1" x2="427.50" y2="179.2"/>
<line x1="460.39" y1="177.1" x2="460.39" y2="179.2"/>
<line x1="493.27" y1="177.1" x2="493.27" y2="179.2"/>
<line x1="526.15" y1="177.1" x2="526.15" y2="179.2"/>
<line x1="559.04" y1="177.1" x2="559.04" y2="179.2"/>
<line x1="591.92" y1="177.1" x2="591.92" y2="179.2"/>
<line x1="624.81" y1="177.1" x2="624.81" y2="179.2"/>
<line x1="657.69" y1="177.1" x2="657.69" y2="179.2"/>
<line x1="398.8" y1="51.40" x2="401.4" y2="51.40"/>
<line x1="398.8" y1="79.37" x2="401.4" y2="79.37"/>
<line x1="398.8" y1="107.34" x2="401.4" y2="107.34"/>
<line x1="398.8" y1="135.31" x2="401.4" y2="135.31"/>
<line x1="398.8" y1="163.28" x2="401.4" y2="163.28"/>
</g>
<g class="ax">
<text transform="translate(427.50,186.2) scale(1,1.17)" text-anchor="middle">0.65</text>
<text transform="translate(460.39,186.2) scale(1,1.17)" text-anchor="middle">0.7</text>
<text transform="translate(493.27,186.2) scale(1,1.17)" text-anchor="middle">0.75</text>
<text transform="translate(526.15,186.2) scale(1,1.17)" text-anchor="middle">0.8</text>
<text transform="translate(559.04,186.2) scale(1,1.17)" text-anchor="middle">0.85</text>
<text transform="translate(591.92,186.2) scale(1,1.17)" text-anchor="middle">0.9</text>
<text transform="translate(624.81,186.2) scale(1,1.17)" text-anchor="middle">0.95</text>
<text transform="translate(657.69,186.2) scale(1,1.17)" text-anchor="middle">1</text>
<text transform="translate(397.2,53.80) scale(1,1.17)" text-anchor="end">MLP</text>
<text transform="translate(397.2,81.77) scale(1,1.17)" text-anchor="end">SVM</text>
<text transform="translate(397.2,109.74) scale(1,1.17)" text-anchor="end">RF</text>
<text transform="translate(397.2,137.71) scale(1,1.17)" text-anchor="end">XGBoost</text>
<text transform="translate(397.2,165.68) scale(1,1.17)" text-anchor="end">LDA-GMCB</text>
</g>
<text class="ti" transform="translate(542.9,6.2) scale(1,1.06)" text-anchor="middle">AUPR Values for lncRNADisease v2.0</text>
<g stroke="#7a7a7a" stroke-width="1">
<line x1="61.50" y1="398.4" x2="61.50" y2="400.6"/>
<line x1="82.33" y1="398.4" x2="82.33" y2="400.6"/>
<line x1="103.15" y1="398.4" x2="103.15" y2="400.6"/>
<line x1="123.98" y1="398.4" x2="123.98" y2="400.6"/>
<line x1="144.80" y1="398.4" x2="144.80" y2="400.6"/>
<line x1="165.63" y1="398.4" x2="165.63" y2="400.6"/>
<line x1="186.45" y1="398.4" x2="186.45" y2="400.6"/>
<line x1="207.27" y1="398.4" x2="207.27" y2="400.6"/>
<line x1="228.10" y1="398.4" x2="228.10" y2="400.6"/>
<line x1="248.92" y1="398.4" x2="248.92" y2="400.6"/>
<line x1="269.75" y1="398.4" x2="269.75" y2="400.6"/>
<line x1="290.57" y1="398.4" x2="290.57" y2="400.6"/>
<line x1="311.40" y1="398.4" x2="311.40" y2="400.6"/>
<line x1="42.9" y1="272.50" x2="45.5" y2="272.50"/>
<line x1="42.9" y1="300.47" x2="45.5" y2="300.47"/>
<line x1="42.9" y1="328.44" x2="45.5" y2="328.44"/>
<line x1="42.9" y1="356.41" x2="45.5" y2="356.41"/>
<line x1="42.9" y1="384.38" x2="45.5" y2="384.38"/>
</g>
<g class="ax">
<text transform="translate(61.50,406.8) scale(1,1.17)" text-anchor="middle">0.88</text>
<text transform="translate(82.33,406.8) scale(1,1.17)" text-anchor="middle">0.89</text>
<text transform="translate(103.15,406.8) scale(1,1.17)" text-anchor="middle">0.9</text>
<text transform="translate(123.98,406.8) scale(1,1.17)" text-anchor="middle">0.91</text>
<text transform="translate(144.80,406.8) scale(1,1.17)" text-anchor="middle">0.92</text>
<text transform="translate(165.63,406.8) scale(1,1.17)" text-anchor="middle">0.93</text>
<text transform="translate(186.45,406.8) scale(1,1.17)" text-anchor="middle">0.94</text>
<text transform="translate(207.27,406.8) scale(1,1.17)" text-anchor="middle">0.95</text>
<text transform="translate(228.10,406.8) scale(1,1.17)" text-anchor="middle">0.96</text>
<text transform="translate(248.92,406.8) scale(1,1.17)" text-anchor="middle">0.97</text>
<text transform="translate(269.75,406.8) scale(1,1.17)" text-anchor="middle">0.98</text>
<text transform="translate(290.57,406.8) scale(1,1.17)" text-anchor="middle">0.99</text>
<text transform="translate(311.40,406.8) scale(1,1.17)" text-anchor="middle">1</text>
<text transform="translate(41.3,275.75) scale(1,1.17)" text-anchor="end">MLP</text>
<text transform="translate(41.3,303.72) scale(1,1.17)" text-anchor="end">SVM</text>
<text transform="translate(41.3,331.69) scale(1,1.17)" text-anchor="end">RF</text>
<text transform="translate(41.3,359.66) scale(1,1.17)" text-anchor="end">XGBoost</text>
<text transform="translate(41.3,387.63) scale(1,1.17)" text-anchor="end">LDA-GMCB</text>
</g>
<text class="ti" transform="translate(186.5,228.0) scale(1,1.06)" text-anchor="middle">AUC Values for MNDR</text>
<g stroke="#7a7a7a" stroke-width="1">
<line x1="420.70" y1="398.4" x2="420.70" y2="400.6"/>
<line x1="445.10" y1="398.4" x2="445.10" y2="400.6"/>
<line x1="469.50" y1="398.4" x2="469.50" y2="400.6"/>
<line x1="493.90" y1="398.4" x2="493.90" y2="400.6"/>
<line x1="518.30" y1="398.4" x2="518.30" y2="400.6"/>
<line x1="542.70" y1="398.4" x2="542.70" y2="400.6"/>
<line x1="567.10" y1="398.4" x2="567.10" y2="400.6"/>
<line x1="591.50" y1="398.4" x2="591.50" y2="400.6"/>
<line x1="615.90" y1="398.4" x2="615.90" y2="400.6"/>
<line x1="640.30" y1="398.4" x2="640.30" y2="400.6"/>
<line x1="664.70" y1="398.4" x2="664.70" y2="400.6"/>
<line x1="398.8" y1="272.50" x2="401.4" y2="272.50"/>
<line x1="398.8" y1="300.47" x2="401.4" y2="300.47"/>
<line x1="398.8" y1="328.44" x2="401.4" y2="328.44"/>
<line x1="398.8" y1="356.41" x2="401.4" y2="356.41"/>
<line x1="398.8" y1="384.38" x2="401.4" y2="384.38"/>
</g>
<g class="ax">
<text transform="translate(420.70,406.8) scale(1,1.17)" text-anchor="middle">0.9</text>
<text transform="translate(445.10,406.8) scale(1,1.17)" text-anchor="middle">0.91</text>
<text transform="translate(469.50,406.8) scale(1,1.17)" text-anchor="middle">0.92</text>
<text transform="translate(493.90,406.8) scale(1,1.17)" text-anchor="middle">0.93</text>
<text transform="translate(518.30,406.8) scale(1,1.17)" text-anchor="middle">0.94</text>
<text transform="translate(542.70,406.8) scale(1,1.17)" text-anchor="middle">0.95</text>
<text transform="translate(567.10,406.8) scale(1,1.17)" text-anchor="middle">0.96</text>
<text transform="translate(591.50,406.8) scale(1,1.17)" text-anchor="middle">0.97</text>
<text transform="translate(615.90,406.8) scale(1,1.17)" text-anchor="middle">0.98</text>
<text transform="translate(640.30,406.8) scale(1,1.17)" text-anchor="middle">0.99</text>
<text transform="translate(664.70,406.8) scale(1,1.17)" text-anchor="middle">1</text>
<text transform="translate(397.2,275.75) scale(1,1.17)" text-anchor="end">MLP</text>
<text transform="translate(397.2,303.72) scale(1,1.17)" text-anchor="end">SVM</text>
<text transform="translate(397.2,331.69) scale(1,1.17)" text-anchor="end">RF</text>
<text transform="translate(397.2,359.66) scale(1,1.17)" text-anchor="end">XGBoost</text>
<text transform="translate(397.2,387.63) scale(1,1.17)" text-anchor="end">LDA-GMCB</text>
</g>
<text class="ti" transform="translate(542.9,228.0) scale(1,1.06)" text-anchor="middle">AUPR Values for MNDR</text>
<g stroke="#7a7a7a" stroke-width="1">
<line x1="64.50" y1="619.9" x2="64.50" y2="622.0"/>
<line x1="93.80" y1="619.9" x2="93.80" y2="622.0"/>
<line x1="123.10" y1="619.9" x2="123.10" y2="622.0"/>
<line x1="152.40" y1="619.9" x2="152.40" y2="622.0"/>
<line x1="181.70" y1="619.9" x2="181.70" y2="622.0"/>
<line x1="211.00" y1="619.9" x2="211.00" y2="622.0"/>
<line x1="240.30" y1="619.9" x2="240.30" y2="622.0"/>
<line x1="269.60" y1="619.9" x2="269.60" y2="622.0"/>
<line x1="298.90" y1="619.9" x2="298.90" y2="622.0"/>
<line x1="42.9" y1="494.05" x2="45.5" y2="494.05"/>
<line x1="42.9" y1="522.02" x2="45.5" y2="522.02"/>
<line x1="42.9" y1="549.99" x2="45.5" y2="549.99"/>
<line x1="42.9" y1="577.96" x2="45.5" y2="577.96"/>
<line x1="42.9" y1="605.93" x2="45.5" y2="605.93"/>
</g>
<g class="ax">
<text transform="translate(64.50,629.1) scale(1,1.17)" text-anchor="middle">0.91</text>
<text transform="translate(93.80,629.1) scale(1,1.17)" text-anchor="middle">0.92</text>
<text transform="translate(123.10,629.1) scale(1,1.17)" text-anchor="middle">0.93</text>
<text transform="translate(152.40,629.1) scale(1,1.17)" text-anchor="middle">0.94</text>
<text transform="translate(181.70,629.1) scale(1,1.17)" text-anchor="middle">0.95</text>
<text transform="translate(211.00,629.1) scale(1,1.17)" text-anchor="middle">0.96</text>
<text transform="translate(240.30,629.1) scale(1,1.17)" text-anchor="middle">0.97</text>
<text transform="translate(269.60,629.1) scale(1,1.17)" text-anchor="middle">0.98</text>
<text transform="translate(298.90,629.1) scale(1,1.17)" text-anchor="middle">0.99</text>
<text transform="translate(41.3,496.95) scale(1,1.17)" text-anchor="end">MLP</text>
<text transform="translate(41.3,524.92) scale(1,1.17)" text-anchor="end">SVM</text>
<text transform="translate(41.3,552.89) scale(1,1.17)" text-anchor="end">RF</text>
<text transform="translate(41.3,580.86) scale(1,1.17)" text-anchor="end">XGBoost</text>
<text transform="translate(41.3,608.83) scale(1,1.17)" text-anchor="end">LDA-GMCB</text>
</g>
<text class="ti" transform="translate(186.5,449.1) scale(1,1.06)" text-anchor="middle">AUC Values for lncRNADisease v3.0</text>
<g stroke="#7a7a7a" stroke-width="1">
<line x1="415.50" y1="619.9" x2="415.50" y2="622.0"/>
<line x1="445.94" y1="619.9" x2="445.94" y2="622.0"/>
<line x1="476.38" y1="619.9" x2="476.38" y2="622.0"/>
<line x1="506.82" y1="619.9" x2="506.82" y2="622.0"/>
<line x1="537.26" y1="619.9" x2="537.26" y2="622.0"/>
<line x1="567.70" y1="619.9" x2="567.70" y2="622.0"/>
<line x1="598.14" y1="619.9" x2="598.14" y2="622.0"/>
<line x1="628.58" y1="619.9" x2="628.58" y2="622.0"/>
<line x1="659.02" y1="619.9" x2="659.02" y2="622.0"/>
<line x1="398.8" y1="494.05" x2="401.4" y2="494.05"/>
<line x1="398.8" y1="522.02" x2="401.4" y2="522.02"/>
<line x1="398.8" y1="549.99" x2="401.4" y2="549.99"/>
<line x1="398.8" y1="577.96" x2="401.4" y2="577.96"/>
<line x1="398.8" y1="605.93" x2="401.4" y2="605.93"/>
</g>
<g class="ax">
<text transform="translate(415.50,629.1) scale(1,1.17)" text-anchor="middle">0.91</text>
<text transform="translate(445.94,629.1) scale(1,1.17)" text-anchor="middle">0.92</text>
<text transform="translate(476.38,629.1) scale(1,1.17)" text-anchor="middle">0.93</text>
<text transform="translate(506.82,629.1) scale(1,1.17)" text-anchor="middle">0.94</text>
<text transform="translate(537.26,629.1) scale(1,1.17)" text-anchor="middle">0.95</text>
<text transform="translate(567.70,629.1) scale(1,1.17)" text-anchor="middle">0.96</text>
<text transform="translate(598.14,629.1) scale(1,1.17)" text-anchor="middle">0.97</text>
<text transform="translate(628.58,629.1) scale(1,1.17)" text-anchor="middle">0.98</text>
<text transform="translate(659.02,629.1) scale(1,1.17)" text-anchor="middle">0.99</text>
<text transform="translate(397.2,496.95) scale(1,1.17)" text-anchor="end">MLP</text>
<text transform="translate(397.2,524.92) scale(1,1.17)" text-anchor="end">SVM</text>
<text transform="translate(397.2,552.89) scale(1,1.17)" text-anchor="end">RF</text>
<text transform="translate(397.2,580.86) scale(1,1.17)" text-anchor="end">XGBoost</text>
<text transform="translate(397.2,608.83) scale(1,1.17)" text-anchor="end">LDA-GMCB</text>
</g>
<text class="ti" transform="translate(542.9,449.1) scale(1,1.06)" text-anchor="middle">AUPR Values for lncRNADisease v3.0</text>
</svg>
</body></html>
